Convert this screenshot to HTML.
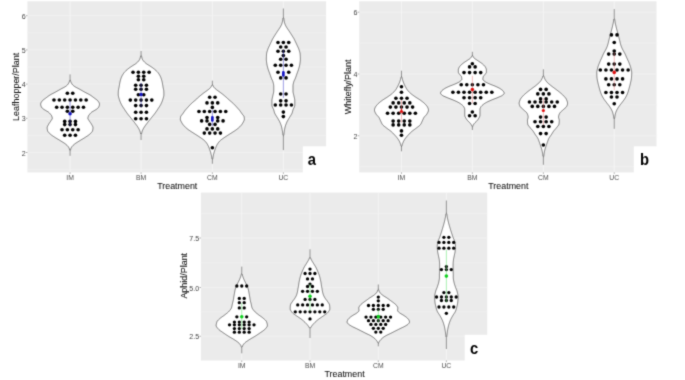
<!DOCTYPE html>
<html><head><meta charset="utf-8"><title>Violin plots</title>
<style>
html,body{margin:0;padding:0;background:#fff;}
body{width:685px;height:380px;overflow:hidden;font-family:"Liberation Sans",sans-serif;}
</style></head><body>
<svg width="685" height="380" viewBox="0 0 685 380" style="display:block">
<defs><filter id="soft" x="0" y="0" width="100%" height="100%" filterUnits="userSpaceOnUse" color-interpolation-filters="sRGB"><feConvolveMatrix order="3" kernelMatrix="1 4 1 4 20 4 1 4 1" divisor="40" edgeMode="duplicate" preserveAlpha="false"/></filter></defs>
<g filter="url(#soft)">
<rect x="-2" y="-2" width="689" height="384" fill="#fff"/>
<rect x="27.4" y="1.3" width="298.70" height="171.10" fill="#ebebeb"/>
<line x1="27.4" x2="326.1" y1="169.6" y2="169.6" stroke="#f1f1f1" stroke-width="0.6"/>
<line x1="27.4" x2="326.1" y1="135.4" y2="135.4" stroke="#f1f1f1" stroke-width="0.6"/>
<line x1="27.4" x2="326.1" y1="101.2" y2="101.2" stroke="#f1f1f1" stroke-width="0.6"/>
<line x1="27.4" x2="326.1" y1="67.0" y2="67.0" stroke="#f1f1f1" stroke-width="0.6"/>
<line x1="27.4" x2="326.1" y1="32.8" y2="32.8" stroke="#f1f1f1" stroke-width="0.6"/>
<line x1="27.4" x2="326.1" y1="152.5" y2="152.5" stroke="#f3f3f3" stroke-width="0.8"/>
<line x1="27.4" x2="326.1" y1="118.3" y2="118.3" stroke="#f3f3f3" stroke-width="0.8"/>
<line x1="27.4" x2="326.1" y1="84.1" y2="84.1" stroke="#f3f3f3" stroke-width="0.8"/>
<line x1="27.4" x2="326.1" y1="49.9" y2="49.9" stroke="#f3f3f3" stroke-width="0.8"/>
<line x1="27.4" x2="326.1" y1="15.7" y2="15.7" stroke="#f3f3f3" stroke-width="0.8"/>
<line x1="70.07" x2="70.07" y1="1.3" y2="172.4" stroke="#f6f6f6" stroke-width="0.8"/>
<line x1="141.07" x2="141.07" y1="1.3" y2="172.4" stroke="#f6f6f6" stroke-width="0.8"/>
<line x1="212.36" x2="212.36" y1="1.3" y2="172.4" stroke="#f6f6f6" stroke-width="0.8"/>
<line x1="283.36" x2="283.36" y1="1.3" y2="172.4" stroke="#f6f6f6" stroke-width="0.8"/>
<path d="M70.07,80.01 L70.49,80.41 L70.57,80.82 L70.67,81.22 L70.80,81.62 L70.95,82.02 L71.12,82.42 L71.31,82.82 L71.52,83.22 L71.74,83.62 L71.99,84.02 L72.28,84.42 L72.64,84.83 L73.06,85.23 L73.52,85.63 L74.01,86.03 L74.53,86.43 L75.14,86.83 L75.83,87.23 L76.57,87.63 L77.35,88.03 L78.14,88.43 L78.91,88.84 L79.64,89.24 L80.35,89.64 L81.06,90.04 L81.76,90.44 L82.46,90.84 L83.17,91.24 L83.88,91.64 L84.59,92.04 L85.33,92.44 L86.09,92.85 L86.87,93.25 L87.66,93.65 L88.43,94.05 L89.17,94.45 L89.87,94.85 L90.51,95.25 L91.11,95.65 L91.68,96.05 L92.23,96.45 L92.76,96.86 L93.29,97.26 L93.80,97.66 L94.32,98.06 L94.86,98.46 L95.42,98.86 L95.99,99.26 L96.55,99.66 L97.06,100.06 L97.51,100.46 L97.87,100.87 L98.16,101.27 L98.43,101.67 L98.70,102.07 L98.94,102.47 L99.15,102.87 L99.31,103.27 L99.42,103.67 L99.47,104.07 L99.46,104.47 L99.41,104.87 L99.33,105.28 L99.23,105.68 L99.09,106.08 L98.94,106.48 L98.77,106.88 L98.58,107.28 L98.32,107.68 L97.93,108.08 L97.46,108.48 L96.97,108.88 L96.41,109.29 L95.78,109.69 L95.12,110.09 L94.45,110.49 L93.79,110.89 L93.07,111.29 L92.37,111.69 L91.75,112.09 L91.25,112.49 L90.83,112.89 L90.45,113.30 L90.11,113.70 L89.78,114.10 L89.44,114.50 L89.11,114.90 L88.80,115.30 L88.56,115.70 L88.40,116.10 L88.25,116.50 L88.12,116.90 L88.01,117.31 L87.92,117.71 L87.88,118.11 L87.89,118.51 L88.01,118.91 L88.22,119.31 L88.48,119.71 L88.76,120.11 L89.02,120.51 L89.27,120.91 L89.53,121.32 L89.81,121.72 L90.10,122.12 L90.39,122.52 L90.67,122.92 L90.95,123.32 L91.20,123.72 L91.43,124.12 L91.65,124.52 L91.88,124.92 L92.11,125.33 L92.33,125.73 L92.54,126.13 L92.72,126.53 L92.86,126.93 L92.95,127.33 L92.97,127.73 L92.96,128.13 L92.94,128.53 L92.89,128.93 L92.84,129.33 L92.77,129.74 L92.70,130.14 L92.61,130.54 L92.50,130.94 L92.32,131.34 L92.06,131.74 L91.75,132.14 L91.40,132.54 L91.02,132.94 L90.62,133.34 L90.23,133.75 L89.80,134.15 L89.32,134.55 L88.80,134.95 L88.24,135.35 L87.66,135.75 L87.06,136.15 L86.45,136.55 L85.85,136.95 L85.24,137.35 L84.62,137.76 L83.97,138.16 L83.31,138.56 L82.63,138.96 L81.95,139.36 L81.28,139.76 L80.61,140.16 L79.96,140.56 L79.32,140.96 L78.68,141.36 L78.03,141.77 L77.38,142.17 L76.74,142.57 L76.12,142.97 L75.52,143.37 L74.96,143.77 L74.44,144.17 L73.97,144.57 L73.51,144.97 L73.07,145.37 L72.67,145.78 L72.31,146.18 L71.99,146.58 L71.72,146.98 L71.47,147.38 L71.23,147.78 L71.03,148.18 L70.87,148.58 L70.75,148.98 L70.66,149.38 L70.59,149.79 L70.52,150.19 L70.07,150.59 L70.07,150.59 L69.62,150.19 L69.55,149.79 L69.48,149.38 L69.39,148.98 L69.27,148.58 L69.11,148.18 L68.91,147.78 L68.67,147.38 L68.42,146.98 L68.15,146.58 L67.83,146.18 L67.47,145.78 L67.07,145.37 L66.63,144.97 L66.17,144.57 L65.70,144.17 L65.18,143.77 L64.62,143.37 L64.02,142.97 L63.40,142.57 L62.76,142.17 L62.11,141.77 L61.46,141.36 L60.82,140.96 L60.18,140.56 L59.53,140.16 L58.86,139.76 L58.19,139.36 L57.51,138.96 L56.83,138.56 L56.17,138.16 L55.52,137.76 L54.90,137.35 L54.29,136.95 L53.69,136.55 L53.08,136.15 L52.48,135.75 L51.90,135.35 L51.34,134.95 L50.82,134.55 L50.34,134.15 L49.91,133.75 L49.52,133.34 L49.12,132.94 L48.74,132.54 L48.39,132.14 L48.08,131.74 L47.82,131.34 L47.64,130.94 L47.53,130.54 L47.44,130.14 L47.37,129.74 L47.30,129.33 L47.25,128.93 L47.20,128.53 L47.18,128.13 L47.17,127.73 L47.19,127.33 L47.28,126.93 L47.42,126.53 L47.60,126.13 L47.81,125.73 L48.03,125.33 L48.26,124.92 L48.49,124.52 L48.71,124.12 L48.94,123.72 L49.19,123.32 L49.47,122.92 L49.75,122.52 L50.04,122.12 L50.33,121.72 L50.61,121.32 L50.87,120.91 L51.12,120.51 L51.38,120.11 L51.66,119.71 L51.92,119.31 L52.13,118.91 L52.25,118.51 L52.26,118.11 L52.22,117.71 L52.13,117.31 L52.02,116.90 L51.89,116.50 L51.74,116.10 L51.58,115.70 L51.34,115.30 L51.03,114.90 L50.70,114.50 L50.36,114.10 L50.03,113.70 L49.69,113.30 L49.31,112.89 L48.89,112.49 L48.39,112.09 L47.77,111.69 L47.07,111.29 L46.35,110.89 L45.69,110.49 L45.02,110.09 L44.36,109.69 L43.73,109.29 L43.17,108.88 L42.68,108.48 L42.21,108.08 L41.82,107.68 L41.56,107.28 L41.37,106.88 L41.20,106.48 L41.05,106.08 L40.91,105.68 L40.81,105.28 L40.73,104.87 L40.68,104.47 L40.67,104.07 L40.72,103.67 L40.83,103.27 L40.99,102.87 L41.20,102.47 L41.44,102.07 L41.71,101.67 L41.98,101.27 L42.27,100.87 L42.63,100.46 L43.08,100.06 L43.59,99.66 L44.15,99.26 L44.72,98.86 L45.28,98.46 L45.82,98.06 L46.34,97.66 L46.85,97.26 L47.38,96.86 L47.91,96.45 L48.46,96.05 L49.03,95.65 L49.63,95.25 L50.27,94.85 L50.97,94.45 L51.71,94.05 L52.48,93.65 L53.27,93.25 L54.05,92.85 L54.81,92.44 L55.55,92.04 L56.26,91.64 L56.97,91.24 L57.68,90.84 L58.38,90.44 L59.08,90.04 L59.79,89.64 L60.50,89.24 L61.23,88.84 L62.00,88.43 L62.79,88.03 L63.57,87.63 L64.31,87.23 L65.00,86.83 L65.61,86.43 L66.13,86.03 L66.62,85.63 L67.08,85.23 L67.50,84.83 L67.86,84.42 L68.15,84.02 L68.40,83.62 L68.62,83.22 L68.83,82.82 L69.02,82.42 L69.19,82.02 L69.34,81.62 L69.47,81.22 L69.57,80.82 L69.65,80.41 L70.07,80.01Z" fill="#fff" stroke="#222" stroke-width="0.58" stroke-linejoin="round"/>
<line x1="70.07" x2="70.07" y1="74.40" y2="80.01" stroke="#303030" stroke-width="0.5"/>
<line x1="70.07" x2="70.07" y1="150.59" y2="155.80" stroke="#303030" stroke-width="0.5"/>
<path d="M141.07,55.41 L141.52,55.81 L141.58,56.21 L141.65,56.61 L141.73,57.01 L141.82,57.41 L141.91,57.82 L142.02,58.22 L142.13,58.62 L142.26,59.02 L142.45,59.42 L142.68,59.82 L142.95,60.22 L143.25,60.62 L143.57,61.02 L143.90,61.42 L144.26,61.82 L144.66,62.23 L145.09,62.63 L145.55,63.03 L146.04,63.43 L146.55,63.83 L147.13,64.23 L147.76,64.63 L148.42,65.03 L149.08,65.43 L149.72,65.83 L150.33,66.23 L150.94,66.64 L151.55,67.04 L152.14,67.44 L152.72,67.84 L153.27,68.24 L153.78,68.64 L154.29,69.04 L154.77,69.44 L155.24,69.84 L155.69,70.24 L156.11,70.64 L156.53,71.05 L156.93,71.45 L157.32,71.85 L157.69,72.25 L158.03,72.65 L158.34,73.05 L158.62,73.45 L158.88,73.85 L159.14,74.25 L159.39,74.65 L159.63,75.05 L159.85,75.45 L160.07,75.86 L160.27,76.26 L160.46,76.66 L160.64,77.06 L160.81,77.46 L160.96,77.86 L161.10,78.26 L161.24,78.66 L161.37,79.06 L161.49,79.46 L161.61,79.86 L161.72,80.27 L161.83,80.67 L161.93,81.07 L162.02,81.47 L162.11,81.87 L162.20,82.27 L162.29,82.67 L162.37,83.07 L162.44,83.47 L162.52,83.87 L162.58,84.27 L162.65,84.68 L162.71,85.08 L162.77,85.48 L162.84,85.88 L162.90,86.28 L162.97,86.68 L163.04,87.08 L163.11,87.48 L163.19,87.88 L163.28,88.28 L163.38,88.68 L163.47,89.09 L163.56,89.49 L163.64,89.89 L163.70,90.29 L163.75,90.69 L163.78,91.09 L163.80,91.49 L163.81,91.89 L163.83,92.29 L163.84,92.69 L163.85,93.09 L163.86,93.50 L163.87,93.90 L163.87,94.30 L163.87,94.70 L163.86,95.10 L163.82,95.50 L163.77,95.90 L163.69,96.30 L163.60,96.70 L163.50,97.10 L163.39,97.50 L163.27,97.91 L163.14,98.31 L163.02,98.71 L162.89,99.11 L162.77,99.51 L162.65,99.91 L162.52,100.31 L162.38,100.71 L162.23,101.11 L162.08,101.51 L161.91,101.91 L161.74,102.32 L161.57,102.72 L161.39,103.12 L161.20,103.52 L161.01,103.92 L160.82,104.32 L160.61,104.72 L160.39,105.12 L160.16,105.52 L159.91,105.92 L159.66,106.32 L159.41,106.73 L159.15,107.13 L158.88,107.53 L158.62,107.93 L158.35,108.33 L158.09,108.73 L157.83,109.13 L157.56,109.53 L157.30,109.93 L157.03,110.33 L156.76,110.73 L156.49,111.14 L156.22,111.54 L155.94,111.94 L155.66,112.34 L155.38,112.74 L155.09,113.14 L154.79,113.54 L154.50,113.94 L154.19,114.34 L153.87,114.74 L153.55,115.14 L153.22,115.55 L152.90,115.95 L152.56,116.35 L152.23,116.75 L151.90,117.15 L151.57,117.55 L151.24,117.95 L150.92,118.35 L150.60,118.75 L150.28,119.15 L149.96,119.55 L149.63,119.95 L149.31,120.36 L148.99,120.76 L148.68,121.16 L148.36,121.56 L148.05,121.96 L147.74,122.36 L147.44,122.76 L147.14,123.16 L146.84,123.56 L146.53,123.96 L146.23,124.36 L145.93,124.77 L145.63,125.17 L145.33,125.57 L145.05,125.97 L144.77,126.37 L144.49,126.77 L144.23,127.17 L143.99,127.57 L143.76,127.97 L143.53,128.37 L143.31,128.77 L143.09,129.18 L142.88,129.58 L142.68,129.98 L142.50,130.38 L142.34,130.78 L142.19,131.18 L142.07,131.58 L141.96,131.98 L141.86,132.38 L141.77,132.78 L141.68,133.18 L141.60,133.59 L141.53,133.99 L141.07,134.39 L141.07,134.39 L140.61,133.99 L140.54,133.59 L140.46,133.18 L140.37,132.78 L140.28,132.38 L140.18,131.98 L140.07,131.58 L139.95,131.18 L139.80,130.78 L139.64,130.38 L139.46,129.98 L139.26,129.58 L139.05,129.18 L138.83,128.77 L138.61,128.37 L138.38,127.97 L138.15,127.57 L137.91,127.17 L137.65,126.77 L137.37,126.37 L137.09,125.97 L136.81,125.57 L136.51,125.17 L136.21,124.77 L135.91,124.36 L135.61,123.96 L135.30,123.56 L135.00,123.16 L134.70,122.76 L134.40,122.36 L134.09,121.96 L133.78,121.56 L133.46,121.16 L133.15,120.76 L132.83,120.36 L132.51,119.95 L132.18,119.55 L131.86,119.15 L131.54,118.75 L131.22,118.35 L130.90,117.95 L130.57,117.55 L130.24,117.15 L129.91,116.75 L129.58,116.35 L129.24,115.95 L128.92,115.55 L128.59,115.14 L128.27,114.74 L127.95,114.34 L127.64,113.94 L127.35,113.54 L127.05,113.14 L126.76,112.74 L126.48,112.34 L126.20,111.94 L125.92,111.54 L125.65,111.14 L125.38,110.73 L125.11,110.33 L124.84,109.93 L124.58,109.53 L124.31,109.13 L124.05,108.73 L123.79,108.33 L123.52,107.93 L123.26,107.53 L122.99,107.13 L122.73,106.73 L122.48,106.32 L122.23,105.92 L121.98,105.52 L121.75,105.12 L121.53,104.72 L121.32,104.32 L121.13,103.92 L120.94,103.52 L120.75,103.12 L120.57,102.72 L120.40,102.32 L120.23,101.91 L120.06,101.51 L119.91,101.11 L119.76,100.71 L119.62,100.31 L119.49,99.91 L119.37,99.51 L119.25,99.11 L119.12,98.71 L119.00,98.31 L118.87,97.91 L118.75,97.50 L118.64,97.10 L118.54,96.70 L118.45,96.30 L118.37,95.90 L118.32,95.50 L118.28,95.10 L118.27,94.70 L118.27,94.30 L118.27,93.90 L118.28,93.50 L118.29,93.09 L118.30,92.69 L118.31,92.29 L118.33,91.89 L118.34,91.49 L118.36,91.09 L118.39,90.69 L118.44,90.29 L118.50,89.89 L118.58,89.49 L118.67,89.09 L118.76,88.68 L118.86,88.28 L118.95,87.88 L119.03,87.48 L119.10,87.08 L119.17,86.68 L119.24,86.28 L119.30,85.88 L119.37,85.48 L119.43,85.08 L119.49,84.68 L119.56,84.27 L119.62,83.87 L119.70,83.47 L119.77,83.07 L119.85,82.67 L119.94,82.27 L120.03,81.87 L120.12,81.47 L120.21,81.07 L120.31,80.67 L120.42,80.27 L120.53,79.86 L120.65,79.46 L120.77,79.06 L120.90,78.66 L121.04,78.26 L121.18,77.86 L121.33,77.46 L121.50,77.06 L121.68,76.66 L121.87,76.26 L122.07,75.86 L122.29,75.45 L122.51,75.05 L122.75,74.65 L123.00,74.25 L123.26,73.85 L123.52,73.45 L123.80,73.05 L124.11,72.65 L124.45,72.25 L124.82,71.85 L125.21,71.45 L125.61,71.05 L126.03,70.64 L126.45,70.24 L126.90,69.84 L127.37,69.44 L127.85,69.04 L128.36,68.64 L128.87,68.24 L129.42,67.84 L130.00,67.44 L130.59,67.04 L131.20,66.64 L131.81,66.23 L132.42,65.83 L133.06,65.43 L133.72,65.03 L134.38,64.63 L135.01,64.23 L135.59,63.83 L136.10,63.43 L136.59,63.03 L137.05,62.63 L137.48,62.23 L137.88,61.82 L138.24,61.42 L138.57,61.02 L138.89,60.62 L139.19,60.22 L139.46,59.82 L139.69,59.42 L139.88,59.02 L140.01,58.62 L140.12,58.22 L140.23,57.82 L140.32,57.41 L140.41,57.01 L140.49,56.61 L140.56,56.21 L140.62,55.81 L141.07,55.41Z" fill="#fff" stroke="#222" stroke-width="0.58" stroke-linejoin="round"/>
<line x1="141.07" x2="141.07" y1="51.00" y2="55.41" stroke="#303030" stroke-width="0.5"/>
<line x1="141.07" x2="141.07" y1="134.39" y2="140.00" stroke="#303030" stroke-width="0.5"/>
<path d="M212.36,84.71 L212.82,85.11 L212.96,85.51 L213.14,85.92 L213.35,86.32 L213.59,86.72 L213.86,87.12 L214.17,87.52 L214.52,87.92 L214.90,88.32 L215.31,88.72 L215.77,89.13 L216.27,89.53 L216.80,89.93 L217.35,90.33 L217.89,90.73 L218.44,91.13 L219.00,91.53 L219.57,91.93 L220.12,92.34 L220.66,92.74 L221.20,93.14 L221.74,93.54 L222.26,93.94 L222.77,94.34 L223.27,94.74 L223.76,95.14 L224.24,95.54 L224.72,95.95 L225.20,96.35 L225.67,96.75 L226.14,97.15 L226.60,97.55 L227.04,97.95 L227.46,98.35 L227.87,98.75 L228.29,99.16 L228.73,99.56 L229.18,99.96 L229.65,100.36 L230.13,100.76 L230.60,101.16 L231.08,101.56 L231.56,101.96 L232.04,102.37 L232.51,102.77 L232.94,103.17 L233.36,103.57 L233.76,103.97 L234.15,104.37 L234.54,104.77 L234.92,105.17 L235.31,105.57 L235.69,105.98 L236.06,106.38 L236.43,106.78 L236.79,107.18 L237.14,107.58 L237.49,107.98 L237.85,108.38 L238.21,108.78 L238.58,109.19 L238.94,109.59 L239.29,109.99 L239.61,110.39 L239.91,110.79 L240.20,111.19 L240.48,111.59 L240.76,111.99 L241.04,112.40 L241.31,112.80 L241.58,113.20 L241.85,113.60 L242.13,114.00 L242.45,114.40 L242.80,114.80 L243.15,115.20 L243.48,115.61 L243.76,116.01 L243.97,116.41 L244.09,116.81 L244.16,117.21 L244.23,117.61 L244.29,118.01 L244.33,118.41 L244.36,118.81 L244.36,119.22 L244.32,119.62 L244.22,120.02 L244.08,120.42 L243.92,120.82 L243.72,121.22 L243.51,121.62 L243.30,122.02 L243.08,122.43 L242.87,122.83 L242.64,123.23 L242.39,123.63 L242.12,124.03 L241.83,124.43 L241.52,124.83 L241.20,125.23 L240.86,125.64 L240.51,126.04 L240.14,126.44 L239.75,126.84 L239.33,127.24 L238.89,127.64 L238.42,128.04 L237.93,128.44 L237.43,128.84 L236.92,129.25 L236.40,129.65 L235.86,130.05 L235.29,130.45 L234.70,130.85 L234.09,131.25 L233.46,131.65 L232.83,132.05 L232.19,132.46 L231.55,132.86 L230.93,133.26 L230.31,133.66 L229.68,134.06 L229.05,134.46 L228.42,134.86 L227.78,135.26 L227.16,135.67 L226.54,136.07 L225.93,136.47 L225.34,136.87 L224.75,137.27 L224.15,137.67 L223.56,138.07 L222.97,138.47 L222.40,138.88 L221.85,139.28 L221.32,139.68 L220.83,140.08 L220.38,140.48 L219.96,140.88 L219.56,141.28 L219.18,141.68 L218.83,142.08 L218.51,142.49 L218.21,142.89 L217.94,143.29 L217.68,143.69 L217.43,144.09 L217.20,144.49 L216.98,144.89 L216.77,145.29 L216.57,145.70 L216.37,146.10 L216.19,146.50 L216.01,146.90 L215.85,147.30 L215.69,147.70 L215.53,148.10 L215.38,148.50 L215.24,148.91 L215.09,149.31 L214.96,149.71 L214.82,150.11 L214.68,150.51 L214.55,150.91 L214.42,151.31 L214.29,151.71 L214.16,152.11 L214.05,152.52 L213.93,152.92 L213.83,153.32 L213.72,153.72 L213.63,154.12 L213.53,154.52 L213.44,154.92 L213.35,155.32 L213.27,155.73 L213.19,156.13 L213.12,156.53 L213.05,156.93 L212.98,157.33 L212.92,157.73 L212.87,158.13 L212.82,158.53 L212.77,158.94 L212.36,159.34 L212.36,159.34 L211.95,158.94 L211.90,158.53 L211.85,158.13 L211.80,157.73 L211.74,157.33 L211.67,156.93 L211.60,156.53 L211.53,156.13 L211.45,155.73 L211.37,155.32 L211.28,154.92 L211.19,154.52 L211.09,154.12 L211.00,153.72 L210.89,153.32 L210.79,152.92 L210.67,152.52 L210.56,152.11 L210.43,151.71 L210.30,151.31 L210.17,150.91 L210.04,150.51 L209.90,150.11 L209.76,149.71 L209.63,149.31 L209.48,148.91 L209.34,148.50 L209.19,148.10 L209.03,147.70 L208.87,147.30 L208.71,146.90 L208.53,146.50 L208.35,146.10 L208.15,145.70 L207.95,145.29 L207.74,144.89 L207.52,144.49 L207.29,144.09 L207.04,143.69 L206.78,143.29 L206.51,142.89 L206.21,142.49 L205.89,142.08 L205.54,141.68 L205.16,141.28 L204.76,140.88 L204.34,140.48 L203.89,140.08 L203.40,139.68 L202.87,139.28 L202.32,138.88 L201.75,138.47 L201.16,138.07 L200.57,137.67 L199.97,137.27 L199.38,136.87 L198.79,136.47 L198.18,136.07 L197.56,135.67 L196.94,135.26 L196.30,134.86 L195.67,134.46 L195.04,134.06 L194.41,133.66 L193.79,133.26 L193.17,132.86 L192.53,132.46 L191.89,132.05 L191.26,131.65 L190.63,131.25 L190.02,130.85 L189.43,130.45 L188.86,130.05 L188.32,129.65 L187.80,129.25 L187.29,128.84 L186.79,128.44 L186.30,128.04 L185.83,127.64 L185.39,127.24 L184.97,126.84 L184.58,126.44 L184.21,126.04 L183.86,125.64 L183.52,125.23 L183.20,124.83 L182.89,124.43 L182.60,124.03 L182.33,123.63 L182.08,123.23 L181.85,122.83 L181.64,122.43 L181.42,122.02 L181.21,121.62 L181.00,121.22 L180.80,120.82 L180.64,120.42 L180.50,120.02 L180.40,119.62 L180.36,119.22 L180.36,118.81 L180.39,118.41 L180.43,118.01 L180.49,117.61 L180.56,117.21 L180.63,116.81 L180.75,116.41 L180.96,116.01 L181.24,115.61 L181.57,115.20 L181.92,114.80 L182.27,114.40 L182.59,114.00 L182.87,113.60 L183.14,113.20 L183.41,112.80 L183.68,112.40 L183.96,111.99 L184.24,111.59 L184.52,111.19 L184.81,110.79 L185.11,110.39 L185.43,109.99 L185.78,109.59 L186.14,109.19 L186.51,108.78 L186.87,108.38 L187.23,107.98 L187.58,107.58 L187.93,107.18 L188.29,106.78 L188.66,106.38 L189.03,105.98 L189.41,105.57 L189.80,105.17 L190.18,104.77 L190.57,104.37 L190.96,103.97 L191.36,103.57 L191.78,103.17 L192.21,102.77 L192.68,102.37 L193.16,101.96 L193.64,101.56 L194.12,101.16 L194.59,100.76 L195.07,100.36 L195.54,99.96 L195.99,99.56 L196.43,99.16 L196.85,98.75 L197.26,98.35 L197.68,97.95 L198.12,97.55 L198.58,97.15 L199.05,96.75 L199.52,96.35 L200.00,95.95 L200.48,95.54 L200.96,95.14 L201.45,94.74 L201.95,94.34 L202.46,93.94 L202.98,93.54 L203.52,93.14 L204.06,92.74 L204.60,92.34 L205.15,91.93 L205.72,91.53 L206.28,91.13 L206.83,90.73 L207.37,90.33 L207.92,89.93 L208.45,89.53 L208.95,89.13 L209.41,88.72 L209.82,88.32 L210.20,87.92 L210.55,87.52 L210.86,87.12 L211.13,86.72 L211.37,86.32 L211.58,85.92 L211.76,85.51 L211.90,85.11 L212.36,84.71Z" fill="#fff" stroke="#222" stroke-width="0.58" stroke-linejoin="round"/>
<line x1="212.36" x2="212.36" y1="80.70" y2="84.71" stroke="#303030" stroke-width="0.5"/>
<line x1="212.36" x2="212.36" y1="159.34" y2="163.75" stroke="#303030" stroke-width="0.5"/>
<path d="M283.36,17.70 L283.79,18.10 L283.83,18.50 L283.88,18.90 L283.92,19.30 L283.97,19.70 L284.03,20.10 L284.08,20.50 L284.15,20.90 L284.21,21.30 L284.30,21.70 L284.39,22.10 L284.49,22.50 L284.59,22.90 L284.71,23.30 L284.84,23.70 L284.97,24.10 L285.13,24.50 L285.31,24.90 L285.50,25.30 L285.71,25.70 L285.92,26.10 L286.13,26.50 L286.37,26.90 L286.61,27.30 L286.86,27.70 L287.12,28.10 L287.37,28.50 L287.64,28.90 L287.91,29.30 L288.18,29.70 L288.46,30.10 L288.73,30.50 L289.00,30.90 L289.27,31.30 L289.54,31.70 L289.81,32.10 L290.07,32.50 L290.33,32.90 L290.60,33.30 L290.86,33.70 L291.11,34.10 L291.37,34.50 L291.62,34.90 L291.87,35.30 L292.12,35.70 L292.36,36.10 L292.61,36.50 L292.86,36.90 L293.11,37.30 L293.37,37.70 L293.62,38.10 L293.86,38.50 L294.08,38.90 L294.28,39.30 L294.48,39.70 L294.67,40.10 L294.86,40.50 L295.05,40.90 L295.23,41.30 L295.42,41.70 L295.61,42.10 L295.80,42.50 L295.99,42.90 L296.18,43.30 L296.36,43.70 L296.55,44.10 L296.74,44.50 L296.92,44.90 L297.11,45.30 L297.29,45.70 L297.49,46.10 L297.68,46.50 L297.87,46.90 L298.06,47.30 L298.25,47.70 L298.43,48.10 L298.60,48.50 L298.75,48.90 L298.90,49.30 L299.03,49.70 L299.16,50.10 L299.30,50.50 L299.43,50.90 L299.55,51.30 L299.67,51.70 L299.79,52.10 L299.89,52.50 L299.98,52.90 L300.05,53.30 L300.12,53.70 L300.16,54.10 L300.19,54.50 L300.21,54.90 L300.24,55.30 L300.26,55.70 L300.28,56.10 L300.30,56.50 L300.32,56.90 L300.33,57.30 L300.34,57.70 L300.35,58.10 L300.36,58.50 L300.36,58.90 L300.37,59.30 L300.36,59.70 L300.34,60.10 L300.32,60.50 L300.28,60.90 L300.24,61.30 L300.20,61.70 L300.14,62.10 L300.08,62.50 L300.02,62.90 L299.96,63.30 L299.90,63.70 L299.83,64.10 L299.77,64.50 L299.70,64.90 L299.62,65.30 L299.53,65.70 L299.44,66.10 L299.34,66.50 L299.23,66.90 L299.12,67.30 L299.01,67.70 L298.89,68.10 L298.78,68.50 L298.66,68.90 L298.54,69.30 L298.41,69.70 L298.28,70.10 L298.14,70.50 L297.99,70.90 L297.84,71.30 L297.69,71.70 L297.54,72.10 L297.39,72.50 L297.24,72.90 L297.09,73.30 L296.94,73.70 L296.80,74.10 L296.66,74.50 L296.52,74.90 L296.38,75.30 L296.25,75.70 L296.11,76.10 L295.98,76.50 L295.84,76.90 L295.70,77.30 L295.55,77.70 L295.40,78.10 L295.25,78.50 L295.08,78.90 L294.89,79.30 L294.68,79.70 L294.47,80.10 L294.27,80.50 L294.08,80.90 L293.93,81.30 L293.81,81.70 L293.70,82.10 L293.59,82.50 L293.49,82.90 L293.39,83.30 L293.30,83.70 L293.21,84.10 L293.14,84.50 L293.07,84.90 L293.02,85.30 L292.99,85.70 L292.97,86.10 L292.97,86.50 L292.97,86.90 L292.97,87.30 L292.97,87.70 L292.97,88.10 L292.97,88.50 L292.97,88.90 L292.97,89.30 L292.97,89.70 L292.97,90.10 L292.97,90.50 L292.97,90.90 L292.98,91.30 L293.01,91.70 L293.06,92.10 L293.12,92.50 L293.20,92.90 L293.30,93.30 L293.39,93.70 L293.49,94.10 L293.60,94.50 L293.69,94.90 L293.79,95.30 L293.87,95.70 L293.95,96.10 L294.04,96.50 L294.14,96.90 L294.24,97.30 L294.34,97.70 L294.43,98.10 L294.52,98.50 L294.60,98.90 L294.67,99.30 L294.72,99.70 L294.76,100.10 L294.77,100.50 L294.77,100.90 L294.77,101.30 L294.77,101.70 L294.77,102.10 L294.77,102.50 L294.77,102.90 L294.77,103.30 L294.77,103.70 L294.77,104.10 L294.77,104.50 L294.77,104.90 L294.77,105.30 L294.73,105.70 L294.64,106.10 L294.51,106.50 L294.36,106.90 L294.18,107.30 L293.98,107.70 L293.77,108.10 L293.57,108.50 L293.37,108.90 L293.19,109.30 L293.04,109.70 L292.91,110.10 L292.80,110.50 L292.70,110.90 L292.60,111.30 L292.50,111.70 L292.39,112.10 L292.27,112.50 L292.13,112.90 L291.97,113.30 L291.78,113.70 L291.57,114.10 L291.34,114.50 L291.10,114.90 L290.85,115.30 L290.59,115.70 L290.33,116.10 L290.08,116.50 L289.83,116.90 L289.59,117.30 L289.36,117.70 L289.13,118.10 L288.89,118.50 L288.65,118.90 L288.41,119.30 L288.17,119.70 L287.93,120.10 L287.70,120.50 L287.48,120.90 L287.26,121.30 L287.06,121.70 L286.87,122.10 L286.70,122.50 L286.52,122.90 L286.36,123.30 L286.19,123.70 L286.04,124.10 L285.88,124.50 L285.74,124.90 L285.60,125.30 L285.47,125.70 L285.34,126.10 L285.23,126.50 L285.12,126.90 L285.03,127.30 L284.93,127.70 L284.85,128.10 L284.76,128.50 L284.69,128.90 L284.61,129.30 L284.54,129.70 L284.47,130.10 L284.41,130.50 L284.34,130.90 L284.28,131.30 L284.22,131.70 L284.17,132.10 L284.11,132.50 L284.06,132.90 L284.00,133.30 L283.95,133.70 L283.90,134.10 L283.86,134.50 L283.82,134.90 L283.77,135.30 L283.36,135.70 L283.36,135.70 L282.95,135.30 L282.90,134.90 L282.86,134.50 L282.82,134.10 L282.77,133.70 L282.72,133.30 L282.66,132.90 L282.61,132.50 L282.55,132.10 L282.50,131.70 L282.44,131.30 L282.38,130.90 L282.31,130.50 L282.25,130.10 L282.18,129.70 L282.11,129.30 L282.03,128.90 L281.96,128.50 L281.87,128.10 L281.79,127.70 L281.69,127.30 L281.60,126.90 L281.49,126.50 L281.38,126.10 L281.25,125.70 L281.12,125.30 L280.98,124.90 L280.84,124.50 L280.68,124.10 L280.53,123.70 L280.36,123.30 L280.20,122.90 L280.02,122.50 L279.85,122.10 L279.66,121.70 L279.46,121.30 L279.24,120.90 L279.02,120.50 L278.79,120.10 L278.55,119.70 L278.31,119.30 L278.07,118.90 L277.83,118.50 L277.59,118.10 L277.36,117.70 L277.13,117.30 L276.89,116.90 L276.64,116.50 L276.39,116.10 L276.13,115.70 L275.87,115.30 L275.62,114.90 L275.38,114.50 L275.15,114.10 L274.94,113.70 L274.75,113.30 L274.59,112.90 L274.45,112.50 L274.33,112.10 L274.22,111.70 L274.12,111.30 L274.02,110.90 L273.92,110.50 L273.81,110.10 L273.68,109.70 L273.53,109.30 L273.35,108.90 L273.15,108.50 L272.95,108.10 L272.74,107.70 L272.54,107.30 L272.36,106.90 L272.21,106.50 L272.08,106.10 L271.99,105.70 L271.95,105.30 L271.95,104.90 L271.95,104.50 L271.95,104.10 L271.95,103.70 L271.95,103.30 L271.95,102.90 L271.95,102.50 L271.95,102.10 L271.95,101.70 L271.95,101.30 L271.95,100.90 L271.95,100.50 L271.96,100.10 L272.00,99.70 L272.05,99.30 L272.12,98.90 L272.20,98.50 L272.29,98.10 L272.38,97.70 L272.48,97.30 L272.58,96.90 L272.68,96.50 L272.77,96.10 L272.85,95.70 L272.93,95.30 L273.03,94.90 L273.12,94.50 L273.23,94.10 L273.33,93.70 L273.42,93.30 L273.52,92.90 L273.60,92.50 L273.66,92.10 L273.71,91.70 L273.74,91.30 L273.75,90.90 L273.75,90.50 L273.75,90.10 L273.75,89.70 L273.75,89.30 L273.75,88.90 L273.75,88.50 L273.75,88.10 L273.75,87.70 L273.75,87.30 L273.75,86.90 L273.75,86.50 L273.75,86.10 L273.73,85.70 L273.70,85.30 L273.65,84.90 L273.58,84.50 L273.51,84.10 L273.42,83.70 L273.33,83.30 L273.23,82.90 L273.13,82.50 L273.02,82.10 L272.91,81.70 L272.79,81.30 L272.64,80.90 L272.45,80.50 L272.25,80.10 L272.04,79.70 L271.83,79.30 L271.64,78.90 L271.47,78.50 L271.32,78.10 L271.17,77.70 L271.02,77.30 L270.88,76.90 L270.74,76.50 L270.61,76.10 L270.47,75.70 L270.34,75.30 L270.20,74.90 L270.06,74.50 L269.92,74.10 L269.78,73.70 L269.63,73.30 L269.48,72.90 L269.33,72.50 L269.18,72.10 L269.03,71.70 L268.88,71.30 L268.73,70.90 L268.58,70.50 L268.44,70.10 L268.31,69.70 L268.18,69.30 L268.06,68.90 L267.94,68.50 L267.83,68.10 L267.71,67.70 L267.60,67.30 L267.49,66.90 L267.38,66.50 L267.28,66.10 L267.19,65.70 L267.10,65.30 L267.02,64.90 L266.95,64.50 L266.89,64.10 L266.82,63.70 L266.76,63.30 L266.70,62.90 L266.64,62.50 L266.58,62.10 L266.52,61.70 L266.48,61.30 L266.44,60.90 L266.40,60.50 L266.38,60.10 L266.36,59.70 L266.35,59.30 L266.36,58.90 L266.36,58.50 L266.37,58.10 L266.38,57.70 L266.39,57.30 L266.40,56.90 L266.42,56.50 L266.44,56.10 L266.46,55.70 L266.48,55.30 L266.51,54.90 L266.53,54.50 L266.56,54.10 L266.60,53.70 L266.67,53.30 L266.74,52.90 L266.83,52.50 L266.93,52.10 L267.05,51.70 L267.17,51.30 L267.29,50.90 L267.42,50.50 L267.56,50.10 L267.69,49.70 L267.82,49.30 L267.97,48.90 L268.12,48.50 L268.29,48.10 L268.47,47.70 L268.66,47.30 L268.85,46.90 L269.04,46.50 L269.23,46.10 L269.43,45.70 L269.61,45.30 L269.80,44.90 L269.98,44.50 L270.17,44.10 L270.36,43.70 L270.54,43.30 L270.73,42.90 L270.92,42.50 L271.11,42.10 L271.30,41.70 L271.49,41.30 L271.67,40.90 L271.86,40.50 L272.05,40.10 L272.24,39.70 L272.44,39.30 L272.64,38.90 L272.86,38.50 L273.10,38.10 L273.35,37.70 L273.61,37.30 L273.86,36.90 L274.11,36.50 L274.36,36.10 L274.60,35.70 L274.85,35.30 L275.10,34.90 L275.35,34.50 L275.61,34.10 L275.86,33.70 L276.12,33.30 L276.39,32.90 L276.65,32.50 L276.91,32.10 L277.18,31.70 L277.45,31.30 L277.72,30.90 L277.99,30.50 L278.26,30.10 L278.54,29.70 L278.81,29.30 L279.08,28.90 L279.35,28.50 L279.60,28.10 L279.86,27.70 L280.11,27.30 L280.35,26.90 L280.59,26.50 L280.80,26.10 L281.01,25.70 L281.22,25.30 L281.41,24.90 L281.59,24.50 L281.75,24.10 L281.88,23.70 L282.01,23.30 L282.13,22.90 L282.23,22.50 L282.33,22.10 L282.42,21.70 L282.51,21.30 L282.57,20.90 L282.64,20.50 L282.69,20.10 L282.75,19.70 L282.80,19.30 L282.84,18.90 L282.89,18.50 L282.93,18.10 L283.36,17.70Z" fill="#fff" stroke="#222" stroke-width="0.58" stroke-linejoin="round"/>
<line x1="283.36" x2="283.36" y1="8.50" y2="17.70" stroke="#303030" stroke-width="0.5"/>
<line x1="283.36" x2="283.36" y1="135.70" y2="150.10" stroke="#303030" stroke-width="0.5"/>
<circle cx="67.39" cy="93.2" r="1.82" fill="#000"/>
<circle cx="72.75" cy="93.2" r="1.82" fill="#000"/>
<circle cx="53.99" cy="99.95" r="1.82" fill="#000"/>
<circle cx="59.35" cy="99.95" r="1.82" fill="#000"/>
<circle cx="64.71" cy="99.95" r="1.82" fill="#000"/>
<circle cx="70.07" cy="99.95" r="1.82" fill="#000"/>
<circle cx="75.43" cy="99.95" r="1.82" fill="#000"/>
<circle cx="80.79" cy="99.95" r="1.82" fill="#000"/>
<circle cx="86.15" cy="99.95" r="1.82" fill="#000"/>
<circle cx="56.67" cy="107.3" r="1.82" fill="#000"/>
<circle cx="62.03" cy="107.3" r="1.82" fill="#000"/>
<circle cx="67.39" cy="107.3" r="1.82" fill="#000"/>
<circle cx="72.75" cy="107.3" r="1.82" fill="#000"/>
<circle cx="78.11" cy="107.3" r="1.82" fill="#000"/>
<circle cx="83.47" cy="107.3" r="1.82" fill="#000"/>
<circle cx="67.39" cy="111.3" r="1.82" fill="#000"/>
<circle cx="72.75" cy="111.3" r="1.82" fill="#000"/>
<circle cx="64.71" cy="121.4" r="1.82" fill="#000"/>
<circle cx="70.07" cy="121.4" r="1.82" fill="#000"/>
<circle cx="75.43" cy="121.4" r="1.82" fill="#000"/>
<circle cx="64.71" cy="124.6" r="1.82" fill="#000"/>
<circle cx="70.07" cy="124.6" r="1.82" fill="#000"/>
<circle cx="75.43" cy="124.6" r="1.82" fill="#000"/>
<circle cx="62.03" cy="129.8" r="1.82" fill="#000"/>
<circle cx="67.39" cy="129.8" r="1.82" fill="#000"/>
<circle cx="72.75" cy="129.8" r="1.82" fill="#000"/>
<circle cx="78.11" cy="129.8" r="1.82" fill="#000"/>
<circle cx="64.71" cy="135.2" r="1.82" fill="#000"/>
<circle cx="70.07" cy="135.2" r="1.82" fill="#000"/>
<circle cx="75.43" cy="135.2" r="1.82" fill="#000"/>
<line x1="70.07" x2="70.07" y1="101" y2="126.3" stroke="#3c3cc8" stroke-width="0.5"/>
<circle cx="70.07" cy="113.7" r="1.8" fill="#1616c4"/>
<circle cx="133.03" cy="72.3" r="1.82" fill="#000"/>
<circle cx="138.39" cy="72.3" r="1.82" fill="#000"/>
<circle cx="143.75" cy="72.3" r="1.82" fill="#000"/>
<circle cx="149.11" cy="72.3" r="1.82" fill="#000"/>
<circle cx="138.39" cy="76.2" r="1.82" fill="#000"/>
<circle cx="143.75" cy="76.2" r="1.82" fill="#000"/>
<circle cx="138.39" cy="79.7" r="1.82" fill="#000"/>
<circle cx="143.75" cy="79.7" r="1.82" fill="#000"/>
<circle cx="135.71" cy="85.3" r="1.82" fill="#000"/>
<circle cx="141.07" cy="85.3" r="1.82" fill="#000"/>
<circle cx="146.43" cy="85.3" r="1.82" fill="#000"/>
<circle cx="135.71" cy="89.2" r="1.82" fill="#000"/>
<circle cx="141.07" cy="89.2" r="1.82" fill="#000"/>
<circle cx="146.43" cy="89.2" r="1.82" fill="#000"/>
<circle cx="138.39" cy="94.7" r="1.82" fill="#000"/>
<circle cx="143.75" cy="94.7" r="1.82" fill="#000"/>
<circle cx="130.35" cy="100.06" r="1.82" fill="#000"/>
<circle cx="135.71" cy="100.06" r="1.82" fill="#000"/>
<circle cx="141.07" cy="100.06" r="1.82" fill="#000"/>
<circle cx="146.43" cy="100.06" r="1.82" fill="#000"/>
<circle cx="151.79" cy="100.06" r="1.82" fill="#000"/>
<circle cx="135.71" cy="105.6" r="1.82" fill="#000"/>
<circle cx="141.07" cy="105.6" r="1.82" fill="#000"/>
<circle cx="146.43" cy="105.6" r="1.82" fill="#000"/>
<circle cx="135.71" cy="112.2" r="1.82" fill="#000"/>
<circle cx="141.07" cy="112.2" r="1.82" fill="#000"/>
<circle cx="146.43" cy="112.2" r="1.82" fill="#000"/>
<circle cx="135.71" cy="118.8" r="1.82" fill="#000"/>
<circle cx="141.07" cy="118.8" r="1.82" fill="#000"/>
<circle cx="146.43" cy="118.8" r="1.82" fill="#000"/>
<line x1="141.07" x2="141.07" y1="82.9" y2="107.2" stroke="#3c3cc8" stroke-width="0.5"/>
<circle cx="141.07" cy="94.5" r="1.8" fill="#1616c4"/>
<circle cx="209.68" cy="97.3" r="1.82" fill="#000"/>
<circle cx="215.04" cy="97.3" r="1.82" fill="#000"/>
<circle cx="207.00" cy="102.9" r="1.82" fill="#000"/>
<circle cx="212.36" cy="102.9" r="1.82" fill="#000"/>
<circle cx="217.72" cy="102.9" r="1.82" fill="#000"/>
<circle cx="212.36" cy="107.4" r="1.82" fill="#000"/>
<circle cx="198.96" cy="111.5" r="1.82" fill="#000"/>
<circle cx="204.32" cy="111.5" r="1.82" fill="#000"/>
<circle cx="209.68" cy="111.5" r="1.82" fill="#000"/>
<circle cx="215.04" cy="111.5" r="1.82" fill="#000"/>
<circle cx="220.40" cy="111.5" r="1.82" fill="#000"/>
<circle cx="225.76" cy="111.5" r="1.82" fill="#000"/>
<circle cx="207.00" cy="117.5" r="1.82" fill="#000"/>
<circle cx="217.72" cy="117.5" r="1.82" fill="#000"/>
<circle cx="201.64" cy="120.9" r="1.82" fill="#000"/>
<circle cx="207.00" cy="120.9" r="1.82" fill="#000"/>
<circle cx="217.72" cy="120.9" r="1.82" fill="#000"/>
<circle cx="223.08" cy="120.9" r="1.82" fill="#000"/>
<circle cx="209.68" cy="124.4" r="1.82" fill="#000"/>
<circle cx="215.04" cy="124.4" r="1.82" fill="#000"/>
<circle cx="207.00" cy="128.9" r="1.82" fill="#000"/>
<circle cx="212.36" cy="128.9" r="1.82" fill="#000"/>
<circle cx="217.72" cy="128.9" r="1.82" fill="#000"/>
<circle cx="204.32" cy="133.1" r="1.82" fill="#000"/>
<circle cx="209.68" cy="133.1" r="1.82" fill="#000"/>
<circle cx="215.04" cy="133.1" r="1.82" fill="#000"/>
<circle cx="220.40" cy="133.1" r="1.82" fill="#000"/>
<circle cx="212.36" cy="147.7" r="1.82" fill="#000"/>
<line x1="212.36" x2="212.36" y1="109.7" y2="126.2" stroke="#3c3cc8" stroke-width="0.5"/>
<rect x="211.01000000000002" y="116.10000000000001" width="2.7" height="5.6" rx="1.25" fill="#1616c4"/>
<circle cx="278.00" cy="42.5" r="1.82" fill="#000"/>
<circle cx="283.36" cy="42.5" r="1.82" fill="#000"/>
<circle cx="288.72" cy="42.5" r="1.82" fill="#000"/>
<circle cx="280.68" cy="47" r="1.82" fill="#000"/>
<circle cx="286.04" cy="47" r="1.82" fill="#000"/>
<circle cx="278.00" cy="51.2" r="1.82" fill="#000"/>
<circle cx="283.36" cy="51.2" r="1.82" fill="#000"/>
<circle cx="288.72" cy="51.2" r="1.82" fill="#000"/>
<circle cx="283.36" cy="55.6" r="1.82" fill="#000"/>
<circle cx="280.68" cy="59.3" r="1.82" fill="#000"/>
<circle cx="286.04" cy="59.3" r="1.82" fill="#000"/>
<circle cx="275.32" cy="65.2" r="1.82" fill="#000"/>
<circle cx="280.68" cy="65.2" r="1.82" fill="#000"/>
<circle cx="286.04" cy="65.2" r="1.82" fill="#000"/>
<circle cx="291.40" cy="65.2" r="1.82" fill="#000"/>
<circle cx="278.00" cy="72.2" r="1.82" fill="#000"/>
<circle cx="288.72" cy="72.2" r="1.82" fill="#000"/>
<circle cx="280.68" cy="77.9" r="1.82" fill="#000"/>
<circle cx="286.04" cy="77.9" r="1.82" fill="#000"/>
<circle cx="280.68" cy="94" r="1.82" fill="#000"/>
<circle cx="286.04" cy="94" r="1.82" fill="#000"/>
<circle cx="280.68" cy="100.85" r="1.82" fill="#000"/>
<circle cx="286.04" cy="100.85" r="1.82" fill="#000"/>
<circle cx="275.32" cy="105" r="1.82" fill="#000"/>
<circle cx="280.68" cy="105" r="1.82" fill="#000"/>
<circle cx="286.04" cy="105" r="1.82" fill="#000"/>
<circle cx="291.40" cy="105" r="1.82" fill="#000"/>
<circle cx="283.36" cy="112.1" r="1.82" fill="#000"/>
<circle cx="283.36" cy="116.6" r="1.82" fill="#000"/>
<line x1="283.36" x2="283.36" y1="50" y2="97.9" stroke="#3c3cc8" stroke-width="0.5"/>
<rect x="282.01" y="71.10000000000001" width="2.7" height="5.6" rx="1.25" fill="#1616c4"/>
<rect x="302.8" y="146.3" width="25.30" height="28.10" fill="#fff"/>
<text x="311.9" y="165.5" font-family="Liberation Sans, sans-serif" font-weight="bold" font-size="16.4" text-anchor="middle" fill="#000" transform="translate(311.9,0) scale(0.9,1) translate(-311.9,0)">a</text>
<line x1="26.0" x2="27.4" y1="152.5" y2="152.5" stroke="#555" stroke-width="0.5"/>
<text x="25.599999999999998" y="155.5" font-family="Liberation Sans, sans-serif" font-size="7.1" text-anchor="end" fill="#444">2</text>
<line x1="26.0" x2="27.4" y1="118.3" y2="118.3" stroke="#555" stroke-width="0.5"/>
<text x="25.599999999999998" y="121.3" font-family="Liberation Sans, sans-serif" font-size="7.1" text-anchor="end" fill="#444">3</text>
<line x1="26.0" x2="27.4" y1="84.1" y2="84.1" stroke="#555" stroke-width="0.5"/>
<text x="25.599999999999998" y="87.1" font-family="Liberation Sans, sans-serif" font-size="7.1" text-anchor="end" fill="#444">4</text>
<line x1="26.0" x2="27.4" y1="49.9" y2="49.9" stroke="#555" stroke-width="0.5"/>
<text x="25.599999999999998" y="52.9" font-family="Liberation Sans, sans-serif" font-size="7.1" text-anchor="end" fill="#444">5</text>
<line x1="26.0" x2="27.4" y1="15.7" y2="15.7" stroke="#555" stroke-width="0.5"/>
<text x="25.599999999999998" y="18.7" font-family="Liberation Sans, sans-serif" font-size="7.1" text-anchor="end" fill="#444">6</text>
<line x1="70.07" x2="70.07" y1="172.4" y2="173.8" stroke="#555" stroke-width="0.5"/>
<text x="70.07" y="179.9" font-family="Liberation Sans, sans-serif" font-size="6.8" text-anchor="middle" fill="#4d4d4d">IM</text>
<line x1="141.07" x2="141.07" y1="172.4" y2="173.8" stroke="#555" stroke-width="0.5"/>
<text x="141.07" y="179.9" font-family="Liberation Sans, sans-serif" font-size="6.8" text-anchor="middle" fill="#4d4d4d">BM</text>
<line x1="212.36" x2="212.36" y1="172.4" y2="173.8" stroke="#555" stroke-width="0.5"/>
<text x="212.36" y="179.9" font-family="Liberation Sans, sans-serif" font-size="6.8" text-anchor="middle" fill="#4d4d4d">CM</text>
<line x1="283.36" x2="283.36" y1="172.4" y2="173.8" stroke="#555" stroke-width="0.5"/>
<text x="283.36" y="179.9" font-family="Liberation Sans, sans-serif" font-size="6.8" text-anchor="middle" fill="#4d4d4d">UC</text>
<text x="177.25" y="188.6" font-family="Liberation Sans, sans-serif" font-size="8.9" text-anchor="middle" fill="#111" stroke="#111" stroke-width="0.06">Treatment</text>
<text x="18.799999999999997" y="86.85000000000001" font-family="Liberation Sans, sans-serif" font-size="8.95" text-anchor="middle" fill="#111" stroke="#111" stroke-width="0.06" transform="rotate(-90 18.799999999999997 86.85000000000001)">Leafhopper/Plant</text>
<rect x="359.2" y="1.3" width="297.30" height="171.10" fill="#ebebeb"/>
<line x1="359.2" x2="656.5" y1="166.6" y2="166.6" stroke="#f1f1f1" stroke-width="0.6"/>
<line x1="359.2" x2="656.5" y1="104.9" y2="104.9" stroke="#f1f1f1" stroke-width="0.6"/>
<line x1="359.2" x2="656.5" y1="43.1" y2="43.1" stroke="#f1f1f1" stroke-width="0.6"/>
<line x1="359.2" x2="656.5" y1="135.75" y2="135.75" stroke="#f3f3f3" stroke-width="0.8"/>
<line x1="359.2" x2="656.5" y1="74.0" y2="74.0" stroke="#f3f3f3" stroke-width="0.8"/>
<line x1="359.2" x2="656.5" y1="12.2" y2="12.2" stroke="#f3f3f3" stroke-width="0.8"/>
<line x1="401.47" x2="401.47" y1="1.3" y2="172.4" stroke="#f6f6f6" stroke-width="0.8"/>
<line x1="472.36" x2="472.36" y1="1.3" y2="172.4" stroke="#f6f6f6" stroke-width="0.8"/>
<line x1="543.36" x2="543.36" y1="1.3" y2="172.4" stroke="#f6f6f6" stroke-width="0.8"/>
<line x1="614.24" x2="614.24" y1="1.3" y2="172.4" stroke="#f6f6f6" stroke-width="0.8"/>
<path d="M401.47,76.71 L401.93,77.12 L402.01,77.52 L402.09,77.92 L402.18,78.32 L402.27,78.72 L402.36,79.12 L402.47,79.52 L402.58,79.92 L402.70,80.32 L402.83,80.72 L402.97,81.13 L403.11,81.53 L403.25,81.93 L403.40,82.33 L403.55,82.73 L403.71,83.13 L403.88,83.53 L404.05,83.93 L404.23,84.33 L404.42,84.73 L404.61,85.14 L404.81,85.54 L405.01,85.94 L405.21,86.34 L405.42,86.74 L405.63,87.14 L405.85,87.54 L406.07,87.94 L406.30,88.34 L406.55,88.74 L406.81,89.15 L407.08,89.55 L407.36,89.95 L407.67,90.35 L408.00,90.75 L408.35,91.15 L408.71,91.55 L409.10,91.95 L409.49,92.35 L409.91,92.75 L410.33,93.16 L410.78,93.56 L411.26,93.96 L411.77,94.36 L412.30,94.76 L412.84,95.16 L413.40,95.56 L413.98,95.96 L414.55,96.36 L415.13,96.76 L415.71,97.17 L416.33,97.57 L416.97,97.97 L417.61,98.37 L418.26,98.77 L418.90,99.17 L419.52,99.57 L420.11,99.97 L420.68,100.37 L421.22,100.77 L421.76,101.18 L422.29,101.58 L422.81,101.98 L423.31,102.38 L423.79,102.78 L424.24,103.18 L424.66,103.58 L425.05,103.98 L425.43,104.38 L425.80,104.78 L426.16,105.19 L426.50,105.59 L426.81,105.99 L427.10,106.39 L427.36,106.79 L427.58,107.19 L427.76,107.59 L427.93,107.99 L428.10,108.39 L428.25,108.79 L428.36,109.20 L428.44,109.60 L428.47,110.00 L428.45,110.40 L428.38,110.80 L428.27,111.20 L428.13,111.60 L427.96,112.00 L427.77,112.40 L427.56,112.80 L427.35,113.21 L427.13,113.61 L426.91,114.01 L426.65,114.41 L426.32,114.81 L425.96,115.21 L425.57,115.61 L425.18,116.01 L424.80,116.41 L424.44,116.81 L424.13,117.22 L423.87,117.62 L423.65,118.02 L423.45,118.42 L423.25,118.82 L423.07,119.22 L422.90,119.62 L422.72,120.02 L422.55,120.42 L422.36,120.82 L422.17,121.23 L421.98,121.63 L421.80,122.03 L421.63,122.43 L421.45,122.83 L421.25,123.23 L421.05,123.63 L420.81,124.03 L420.56,124.43 L420.25,124.83 L419.88,125.24 L419.45,125.64 L418.98,126.04 L418.47,126.44 L417.94,126.84 L417.40,127.24 L416.87,127.64 L416.35,128.04 L415.84,128.44 L415.30,128.84 L414.75,129.25 L414.19,129.65 L413.64,130.05 L413.09,130.45 L412.56,130.85 L412.05,131.25 L411.58,131.65 L411.13,132.05 L410.71,132.45 L410.29,132.85 L409.90,133.26 L409.51,133.66 L409.13,134.06 L408.76,134.46 L408.39,134.86 L408.03,135.26 L407.67,135.66 L407.31,136.06 L406.95,136.46 L406.60,136.86 L406.26,137.27 L405.93,137.67 L405.62,138.07 L405.32,138.47 L405.04,138.87 L404.78,139.27 L404.52,139.67 L404.27,140.07 L404.03,140.47 L403.81,140.87 L403.59,141.28 L403.39,141.68 L403.21,142.08 L403.04,142.48 L402.87,142.88 L402.71,143.28 L402.56,143.68 L402.42,144.08 L402.28,144.48 L402.17,144.88 L402.07,145.29 L401.98,145.69 L401.91,146.09 L401.47,146.49 L401.47,146.49 L401.03,146.09 L400.96,145.69 L400.87,145.29 L400.77,144.88 L400.66,144.48 L400.52,144.08 L400.38,143.68 L400.23,143.28 L400.07,142.88 L399.90,142.48 L399.73,142.08 L399.55,141.68 L399.35,141.28 L399.13,140.87 L398.91,140.47 L398.67,140.07 L398.42,139.67 L398.16,139.27 L397.90,138.87 L397.62,138.47 L397.32,138.07 L397.01,137.67 L396.68,137.27 L396.34,136.86 L395.99,136.46 L395.63,136.06 L395.27,135.66 L394.91,135.26 L394.55,134.86 L394.18,134.46 L393.81,134.06 L393.43,133.66 L393.04,133.26 L392.65,132.85 L392.23,132.45 L391.81,132.05 L391.36,131.65 L390.89,131.25 L390.38,130.85 L389.85,130.45 L389.30,130.05 L388.75,129.65 L388.19,129.25 L387.64,128.84 L387.10,128.44 L386.59,128.04 L386.07,127.64 L385.54,127.24 L385.00,126.84 L384.47,126.44 L383.96,126.04 L383.49,125.64 L383.06,125.24 L382.69,124.83 L382.38,124.43 L382.13,124.03 L381.89,123.63 L381.69,123.23 L381.49,122.83 L381.31,122.43 L381.14,122.03 L380.96,121.63 L380.77,121.23 L380.58,120.82 L380.39,120.42 L380.22,120.02 L380.04,119.62 L379.87,119.22 L379.69,118.82 L379.49,118.42 L379.29,118.02 L379.07,117.62 L378.81,117.22 L378.50,116.81 L378.14,116.41 L377.76,116.01 L377.37,115.61 L376.98,115.21 L376.62,114.81 L376.29,114.41 L376.03,114.01 L375.81,113.61 L375.59,113.21 L375.38,112.80 L375.17,112.40 L374.98,112.00 L374.81,111.60 L374.67,111.20 L374.56,110.80 L374.49,110.40 L374.47,110.00 L374.50,109.60 L374.58,109.20 L374.69,108.79 L374.84,108.39 L375.01,107.99 L375.18,107.59 L375.36,107.19 L375.58,106.79 L375.84,106.39 L376.13,105.99 L376.44,105.59 L376.78,105.19 L377.14,104.78 L377.51,104.38 L377.89,103.98 L378.28,103.58 L378.70,103.18 L379.15,102.78 L379.63,102.38 L380.13,101.98 L380.65,101.58 L381.18,101.18 L381.72,100.77 L382.26,100.37 L382.83,99.97 L383.42,99.57 L384.04,99.17 L384.68,98.77 L385.33,98.37 L385.97,97.97 L386.61,97.57 L387.23,97.17 L387.81,96.76 L388.39,96.36 L388.96,95.96 L389.54,95.56 L390.10,95.16 L390.64,94.76 L391.17,94.36 L391.68,93.96 L392.16,93.56 L392.61,93.16 L393.03,92.75 L393.45,92.35 L393.84,91.95 L394.23,91.55 L394.59,91.15 L394.94,90.75 L395.27,90.35 L395.58,89.95 L395.86,89.55 L396.13,89.15 L396.39,88.74 L396.64,88.34 L396.87,87.94 L397.09,87.54 L397.31,87.14 L397.52,86.74 L397.73,86.34 L397.93,85.94 L398.13,85.54 L398.33,85.14 L398.52,84.73 L398.71,84.33 L398.89,83.93 L399.06,83.53 L399.23,83.13 L399.39,82.73 L399.54,82.33 L399.69,81.93 L399.83,81.53 L399.97,81.13 L400.11,80.72 L400.24,80.32 L400.36,79.92 L400.47,79.52 L400.58,79.12 L400.67,78.72 L400.76,78.32 L400.85,77.92 L400.93,77.52 L401.01,77.12 L401.47,76.71Z" fill="#fff" stroke="#222" stroke-width="0.58" stroke-linejoin="round"/>
<line x1="401.47" x2="401.47" y1="70.70" y2="76.71" stroke="#303030" stroke-width="0.5"/>
<line x1="401.47" x2="401.47" y1="146.49" y2="151.30" stroke="#303030" stroke-width="0.5"/>
<path d="M472.36,55.41 L472.82,55.81 L472.96,56.21 L473.15,56.61 L473.38,57.01 L473.65,57.41 L473.95,57.82 L474.30,58.22 L474.76,58.62 L475.31,59.02 L475.92,59.42 L476.55,59.82 L477.16,60.22 L477.75,60.62 L478.36,61.02 L478.99,61.42 L479.61,61.83 L480.21,62.23 L480.77,62.63 L481.31,63.03 L481.84,63.43 L482.35,63.83 L482.84,64.23 L483.29,64.63 L483.70,65.03 L484.08,65.43 L484.45,65.84 L484.79,66.24 L485.11,66.64 L485.37,67.04 L485.59,67.44 L485.78,67.84 L485.96,68.24 L486.12,68.64 L486.25,69.04 L486.34,69.45 L486.37,69.85 L486.37,70.25 L486.37,70.65 L486.37,71.05 L486.37,71.45 L486.37,71.85 L486.36,72.25 L486.27,72.65 L486.06,73.05 L485.78,73.46 L485.46,73.86 L485.14,74.26 L484.85,74.66 L484.52,75.06 L484.15,75.46 L483.79,75.86 L483.47,76.26 L483.24,76.66 L483.13,77.06 L483.06,77.47 L482.99,77.87 L482.93,78.27 L482.89,78.67 L482.87,79.07 L482.89,79.47 L483.06,79.87 L483.38,80.27 L483.81,80.67 L484.30,81.07 L484.81,81.48 L485.35,81.88 L486.01,82.28 L486.78,82.68 L487.63,83.08 L488.51,83.48 L489.40,83.88 L490.31,84.28 L491.31,84.68 L492.36,85.09 L493.42,85.49 L494.45,85.89 L495.41,86.29 L496.30,86.69 L497.16,87.09 L498.00,87.49 L498.80,87.89 L499.54,88.29 L500.20,88.69 L500.80,89.10 L501.38,89.50 L501.93,89.90 L502.43,90.30 L502.85,90.70 L503.19,91.10 L503.46,91.50 L503.72,91.90 L503.94,92.30 L504.10,92.70 L504.16,93.11 L504.10,93.51 L503.88,93.91 L503.56,94.31 L503.17,94.71 L502.75,95.11 L502.21,95.51 L501.49,95.91 L500.63,96.31 L499.69,96.71 L498.74,97.12 L497.81,97.52 L496.85,97.92 L495.84,98.32 L494.79,98.72 L493.75,99.12 L492.73,99.52 L491.77,99.92 L490.83,100.32 L489.88,100.73 L488.97,101.13 L488.09,101.53 L487.28,101.93 L486.53,102.33 L485.84,102.73 L485.17,103.13 L484.55,103.53 L483.97,103.93 L483.43,104.33 L482.95,104.74 L482.48,105.14 L482.03,105.54 L481.61,105.94 L481.25,106.34 L480.96,106.74 L480.74,107.14 L480.52,107.54 L480.33,107.94 L480.16,108.34 L480.04,108.75 L479.98,109.15 L479.97,109.55 L479.97,109.95 L479.97,110.35 L479.97,110.75 L479.97,111.15 L479.97,111.55 L479.97,111.95 L479.97,112.35 L479.97,112.76 L479.97,113.16 L479.97,113.56 L479.97,113.96 L479.97,114.36 L479.97,114.76 L479.97,115.16 L479.95,115.56 L479.87,115.96 L479.74,116.37 L479.58,116.77 L479.39,117.17 L479.18,117.57 L478.95,117.97 L478.72,118.37 L478.49,118.77 L478.25,119.17 L477.96,119.57 L477.65,119.97 L477.31,120.38 L476.96,120.78 L476.61,121.18 L476.22,121.58 L475.80,121.98 L475.36,122.38 L474.94,122.78 L474.56,123.18 L474.23,123.58 L473.94,123.98 L473.67,124.39 L473.42,124.79 L473.20,125.19 L473.02,125.59 L472.88,125.99 L472.77,126.39 L472.36,126.79 L472.36,126.79 L471.95,126.39 L471.84,125.99 L471.70,125.59 L471.52,125.19 L471.30,124.79 L471.05,124.39 L470.78,123.98 L470.49,123.58 L470.16,123.18 L469.78,122.78 L469.36,122.38 L468.92,121.98 L468.50,121.58 L468.11,121.18 L467.76,120.78 L467.41,120.38 L467.07,119.97 L466.76,119.57 L466.47,119.17 L466.23,118.77 L466.00,118.37 L465.77,117.97 L465.54,117.57 L465.33,117.17 L465.14,116.77 L464.98,116.37 L464.85,115.96 L464.77,115.56 L464.75,115.16 L464.75,114.76 L464.75,114.36 L464.75,113.96 L464.75,113.56 L464.75,113.16 L464.75,112.76 L464.75,112.35 L464.75,111.95 L464.75,111.55 L464.75,111.15 L464.75,110.75 L464.75,110.35 L464.75,109.95 L464.75,109.55 L464.74,109.15 L464.68,108.75 L464.56,108.34 L464.39,107.94 L464.20,107.54 L463.98,107.14 L463.76,106.74 L463.47,106.34 L463.11,105.94 L462.69,105.54 L462.24,105.14 L461.77,104.74 L461.29,104.33 L460.75,103.93 L460.17,103.53 L459.55,103.13 L458.88,102.73 L458.19,102.33 L457.44,101.93 L456.63,101.53 L455.75,101.13 L454.84,100.73 L453.89,100.32 L452.95,99.92 L451.99,99.52 L450.97,99.12 L449.93,98.72 L448.88,98.32 L447.87,97.92 L446.91,97.52 L445.98,97.12 L445.03,96.71 L444.09,96.31 L443.23,95.91 L442.51,95.51 L441.97,95.11 L441.55,94.71 L441.16,94.31 L440.84,93.91 L440.62,93.51 L440.56,93.11 L440.62,92.70 L440.78,92.30 L441.00,91.90 L441.26,91.50 L441.53,91.10 L441.87,90.70 L442.29,90.30 L442.79,89.90 L443.34,89.50 L443.92,89.10 L444.52,88.69 L445.18,88.29 L445.92,87.89 L446.72,87.49 L447.56,87.09 L448.42,86.69 L449.31,86.29 L450.27,85.89 L451.30,85.49 L452.36,85.09 L453.41,84.68 L454.41,84.28 L455.32,83.88 L456.21,83.48 L457.09,83.08 L457.94,82.68 L458.71,82.28 L459.37,81.88 L459.91,81.48 L460.42,81.07 L460.91,80.67 L461.34,80.27 L461.66,79.87 L461.83,79.47 L461.85,79.07 L461.83,78.67 L461.79,78.27 L461.73,77.87 L461.66,77.47 L461.59,77.06 L461.48,76.66 L461.25,76.26 L460.93,75.86 L460.57,75.46 L460.20,75.06 L459.87,74.66 L459.58,74.26 L459.26,73.86 L458.94,73.46 L458.66,73.05 L458.45,72.65 L458.36,72.25 L458.35,71.85 L458.35,71.45 L458.35,71.05 L458.35,70.65 L458.35,70.25 L458.35,69.85 L458.38,69.45 L458.47,69.04 L458.60,68.64 L458.76,68.24 L458.94,67.84 L459.13,67.44 L459.35,67.04 L459.61,66.64 L459.93,66.24 L460.27,65.84 L460.64,65.43 L461.02,65.03 L461.43,64.63 L461.88,64.23 L462.37,63.83 L462.88,63.43 L463.41,63.03 L463.95,62.63 L464.51,62.23 L465.11,61.83 L465.73,61.42 L466.36,61.02 L466.97,60.62 L467.56,60.22 L468.17,59.82 L468.80,59.42 L469.41,59.02 L469.96,58.62 L470.42,58.22 L470.77,57.82 L471.07,57.41 L471.34,57.01 L471.57,56.61 L471.76,56.21 L471.90,55.81 L472.36,55.41Z" fill="#fff" stroke="#222" stroke-width="0.58" stroke-linejoin="round"/>
<line x1="472.36" x2="472.36" y1="51.80" y2="55.41" stroke="#303030" stroke-width="0.5"/>
<line x1="472.36" x2="472.36" y1="126.79" y2="130.00" stroke="#303030" stroke-width="0.5"/>
<path d="M543.36,75.72 L543.85,76.12 L543.95,76.52 L544.07,76.92 L544.20,77.33 L544.34,77.73 L544.49,78.13 L544.65,78.53 L544.83,78.93 L545.04,79.33 L545.27,79.73 L545.52,80.13 L545.78,80.54 L546.07,80.94 L546.36,81.34 L546.67,81.74 L547.01,82.14 L547.39,82.54 L547.80,82.94 L548.24,83.34 L548.70,83.75 L549.18,84.15 L549.66,84.55 L550.15,84.95 L550.63,85.35 L551.13,85.75 L551.64,86.15 L552.17,86.55 L552.71,86.96 L553.25,87.36 L553.80,87.76 L554.35,88.16 L554.88,88.56 L555.41,88.96 L555.94,89.36 L556.48,89.76 L557.01,90.17 L557.54,90.57 L558.07,90.97 L558.59,91.37 L559.10,91.77 L559.59,92.17 L560.07,92.57 L560.55,92.97 L561.02,93.38 L561.49,93.78 L561.95,94.18 L562.39,94.58 L562.82,94.98 L563.23,95.38 L563.61,95.78 L563.98,96.18 L564.34,96.59 L564.70,96.99 L565.05,97.39 L565.38,97.79 L565.69,98.19 L565.97,98.59 L566.22,98.99 L566.42,99.39 L566.59,99.80 L566.75,100.20 L566.91,100.60 L567.06,101.00 L567.20,101.40 L567.32,101.80 L567.42,102.20 L567.50,102.60 L567.55,103.01 L567.56,103.41 L567.54,103.81 L567.47,104.21 L567.37,104.61 L567.24,105.01 L567.08,105.41 L566.91,105.81 L566.73,106.22 L566.52,106.62 L566.23,107.02 L565.86,107.42 L565.45,107.82 L564.99,108.22 L564.51,108.62 L564.03,109.02 L563.57,109.43 L563.14,109.83 L562.72,110.23 L562.27,110.63 L561.81,111.03 L561.34,111.43 L560.89,111.83 L560.47,112.23 L560.10,112.64 L559.79,113.04 L559.57,113.44 L559.40,113.84 L559.23,114.24 L559.07,114.64 L558.93,115.04 L558.81,115.44 L558.70,115.85 L558.63,116.25 L558.58,116.65 L558.57,117.05 L558.60,117.45 L558.67,117.85 L558.77,118.25 L558.88,118.66 L559.00,119.06 L559.11,119.46 L559.20,119.86 L559.25,120.26 L559.27,120.66 L559.26,121.06 L559.24,121.46 L559.22,121.87 L559.19,122.27 L559.15,122.67 L559.10,123.07 L559.05,123.47 L559.00,123.87 L558.93,124.27 L558.80,124.67 L558.59,125.08 L558.33,125.48 L558.03,125.88 L557.70,126.28 L557.36,126.68 L557.02,127.08 L556.69,127.48 L556.39,127.88 L556.06,128.29 L555.71,128.69 L555.36,129.09 L555.00,129.49 L554.64,129.89 L554.29,130.29 L553.96,130.69 L553.65,131.09 L553.36,131.50 L553.09,131.90 L552.83,132.30 L552.57,132.70 L552.33,133.10 L552.08,133.50 L551.84,133.90 L551.59,134.30 L551.33,134.71 L551.06,135.11 L550.78,135.51 L550.48,135.91 L550.18,136.31 L549.88,136.71 L549.60,137.11 L549.33,137.51 L549.08,137.92 L548.87,138.32 L548.67,138.72 L548.50,139.12 L548.33,139.52 L548.17,139.92 L548.02,140.32 L547.88,140.72 L547.74,141.13 L547.60,141.53 L547.45,141.93 L547.31,142.33 L547.17,142.73 L547.03,143.13 L546.90,143.53 L546.77,143.93 L546.63,144.34 L546.50,144.74 L546.37,145.14 L546.24,145.54 L546.10,145.94 L545.96,146.34 L545.82,146.74 L545.68,147.14 L545.54,147.55 L545.41,147.95 L545.28,148.35 L545.15,148.75 L545.03,149.15 L544.92,149.55 L544.82,149.95 L544.72,150.35 L544.63,150.76 L544.54,151.16 L544.46,151.56 L544.38,151.96 L544.30,152.36 L544.23,152.76 L544.16,153.16 L544.10,153.56 L544.04,153.97 L543.98,154.37 L543.93,154.77 L543.89,155.17 L543.85,155.57 L543.81,155.97 L543.77,156.37 L543.36,156.77 L543.36,156.77 L542.95,156.37 L542.91,155.97 L542.87,155.57 L542.83,155.17 L542.79,154.77 L542.74,154.37 L542.68,153.97 L542.62,153.56 L542.56,153.16 L542.49,152.76 L542.42,152.36 L542.34,151.96 L542.26,151.56 L542.18,151.16 L542.09,150.76 L542.00,150.35 L541.90,149.95 L541.80,149.55 L541.69,149.15 L541.57,148.75 L541.44,148.35 L541.31,147.95 L541.18,147.55 L541.04,147.14 L540.90,146.74 L540.76,146.34 L540.62,145.94 L540.48,145.54 L540.35,145.14 L540.22,144.74 L540.09,144.34 L539.95,143.93 L539.82,143.53 L539.69,143.13 L539.55,142.73 L539.41,142.33 L539.27,141.93 L539.12,141.53 L538.98,141.13 L538.84,140.72 L538.70,140.32 L538.55,139.92 L538.39,139.52 L538.22,139.12 L538.05,138.72 L537.85,138.32 L537.64,137.92 L537.39,137.51 L537.12,137.11 L536.84,136.71 L536.54,136.31 L536.24,135.91 L535.94,135.51 L535.66,135.11 L535.39,134.71 L535.13,134.30 L534.88,133.90 L534.64,133.50 L534.39,133.10 L534.15,132.70 L533.89,132.30 L533.63,131.90 L533.36,131.50 L533.07,131.09 L532.76,130.69 L532.43,130.29 L532.08,129.89 L531.72,129.49 L531.36,129.09 L531.01,128.69 L530.66,128.29 L530.33,127.88 L530.03,127.48 L529.70,127.08 L529.36,126.68 L529.02,126.28 L528.69,125.88 L528.39,125.48 L528.13,125.08 L527.92,124.67 L527.79,124.27 L527.72,123.87 L527.67,123.47 L527.62,123.07 L527.57,122.67 L527.53,122.27 L527.50,121.87 L527.48,121.46 L527.46,121.06 L527.45,120.66 L527.47,120.26 L527.52,119.86 L527.61,119.46 L527.72,119.06 L527.84,118.66 L527.95,118.25 L528.05,117.85 L528.12,117.45 L528.15,117.05 L528.14,116.65 L528.09,116.25 L528.02,115.85 L527.91,115.44 L527.79,115.04 L527.65,114.64 L527.49,114.24 L527.32,113.84 L527.15,113.44 L526.93,113.04 L526.62,112.64 L526.25,112.23 L525.83,111.83 L525.38,111.43 L524.91,111.03 L524.45,110.63 L524.00,110.23 L523.58,109.83 L523.15,109.43 L522.69,109.02 L522.21,108.62 L521.73,108.22 L521.27,107.82 L520.86,107.42 L520.49,107.02 L520.20,106.62 L519.99,106.22 L519.81,105.81 L519.64,105.41 L519.48,105.01 L519.35,104.61 L519.25,104.21 L519.18,103.81 L519.16,103.41 L519.17,103.01 L519.22,102.60 L519.30,102.20 L519.40,101.80 L519.52,101.40 L519.66,101.00 L519.81,100.60 L519.97,100.20 L520.13,99.80 L520.30,99.39 L520.50,98.99 L520.75,98.59 L521.03,98.19 L521.34,97.79 L521.67,97.39 L522.02,96.99 L522.38,96.59 L522.74,96.18 L523.11,95.78 L523.49,95.38 L523.90,94.98 L524.33,94.58 L524.77,94.18 L525.23,93.78 L525.70,93.38 L526.17,92.97 L526.65,92.57 L527.13,92.17 L527.62,91.77 L528.13,91.37 L528.65,90.97 L529.18,90.57 L529.71,90.17 L530.24,89.76 L530.78,89.36 L531.31,88.96 L531.84,88.56 L532.37,88.16 L532.92,87.76 L533.47,87.36 L534.01,86.96 L534.55,86.55 L535.08,86.15 L535.59,85.75 L536.09,85.35 L536.57,84.95 L537.06,84.55 L537.54,84.15 L538.02,83.75 L538.48,83.34 L538.92,82.94 L539.33,82.54 L539.71,82.14 L540.05,81.74 L540.36,81.34 L540.65,80.94 L540.94,80.54 L541.20,80.13 L541.45,79.73 L541.68,79.33 L541.89,78.93 L542.07,78.53 L542.23,78.13 L542.38,77.73 L542.52,77.33 L542.65,76.92 L542.77,76.52 L542.87,76.12 L543.36,75.72Z" fill="#fff" stroke="#222" stroke-width="0.58" stroke-linejoin="round"/>
<line x1="543.36" x2="543.36" y1="69.30" y2="75.72" stroke="#303030" stroke-width="0.5"/>
<line x1="543.36" x2="543.36" y1="156.77" y2="164.80" stroke="#303030" stroke-width="0.5"/>
<path d="M614.24,18.71 L614.67,19.11 L614.72,19.51 L614.77,19.91 L614.83,20.31 L614.88,20.71 L614.94,21.11 L615.00,21.51 L615.06,21.91 L615.12,22.31 L615.20,22.71 L615.27,23.11 L615.35,23.51 L615.44,23.91 L615.53,24.31 L615.62,24.71 L615.71,25.11 L615.80,25.51 L615.89,25.91 L615.98,26.31 L616.08,26.71 L616.17,27.12 L616.27,27.52 L616.37,27.92 L616.47,28.32 L616.57,28.72 L616.67,29.12 L616.78,29.52 L616.88,29.92 L616.99,30.32 L617.09,30.72 L617.20,31.12 L617.30,31.52 L617.41,31.92 L617.52,32.32 L617.63,32.72 L617.74,33.12 L617.84,33.52 L617.95,33.92 L618.06,34.32 L618.17,34.72 L618.28,35.12 L618.39,35.52 L618.49,35.92 L618.59,36.32 L618.70,36.72 L618.80,37.12 L618.90,37.52 L619.00,37.92 L619.11,38.32 L619.21,38.72 L619.31,39.13 L619.41,39.53 L619.51,39.93 L619.61,40.33 L619.71,40.73 L619.81,41.13 L619.91,41.53 L620.00,41.93 L620.09,42.33 L620.19,42.73 L620.29,43.13 L620.39,43.53 L620.49,43.93 L620.60,44.33 L620.71,44.73 L620.83,45.13 L620.96,45.53 L621.10,45.93 L621.25,46.33 L621.40,46.73 L621.56,47.13 L621.73,47.53 L621.91,47.93 L622.08,48.33 L622.27,48.73 L622.46,49.13 L622.66,49.53 L622.87,49.93 L623.09,50.33 L623.32,50.73 L623.55,51.14 L623.78,51.54 L624.01,51.94 L624.23,52.34 L624.45,52.74 L624.67,53.14 L624.87,53.54 L625.06,53.94 L625.25,54.34 L625.43,54.74 L625.61,55.14 L625.79,55.54 L625.96,55.94 L626.13,56.34 L626.31,56.74 L626.48,57.14 L626.66,57.54 L626.83,57.94 L627.01,58.34 L627.19,58.74 L627.38,59.14 L627.56,59.54 L627.75,59.94 L627.93,60.34 L628.12,60.74 L628.30,61.14 L628.48,61.54 L628.65,61.94 L628.82,62.34 L628.98,62.74 L629.14,63.15 L629.30,63.55 L629.46,63.95 L629.62,64.35 L629.78,64.75 L629.93,65.15 L630.08,65.55 L630.22,65.95 L630.35,66.35 L630.48,66.75 L630.60,67.15 L630.71,67.55 L630.81,67.95 L630.91,68.35 L631.01,68.75 L631.11,69.15 L631.21,69.55 L631.31,69.95 L631.40,70.35 L631.48,70.75 L631.55,71.15 L631.61,71.55 L631.65,71.95 L631.68,72.35 L631.69,72.75 L631.69,73.15 L631.69,73.55 L631.68,73.95 L631.67,74.35 L631.65,74.75 L631.63,75.16 L631.61,75.56 L631.58,75.96 L631.56,76.36 L631.53,76.76 L631.50,77.16 L631.47,77.56 L631.44,77.96 L631.40,78.36 L631.35,78.76 L631.29,79.16 L631.22,79.56 L631.15,79.96 L631.07,80.36 L630.98,80.76 L630.89,81.16 L630.80,81.56 L630.71,81.96 L630.62,82.36 L630.53,82.76 L630.44,83.16 L630.35,83.56 L630.25,83.96 L630.16,84.36 L630.06,84.76 L629.95,85.16 L629.85,85.56 L629.74,85.96 L629.63,86.36 L629.52,86.76 L629.41,87.17 L629.30,87.57 L629.19,87.97 L629.08,88.37 L628.97,88.77 L628.86,89.17 L628.75,89.57 L628.63,89.97 L628.52,90.37 L628.40,90.77 L628.27,91.17 L628.15,91.57 L628.02,91.97 L627.88,92.37 L627.74,92.77 L627.60,93.17 L627.44,93.57 L627.28,93.97 L627.11,94.37 L626.93,94.77 L626.75,95.17 L626.56,95.57 L626.36,95.97 L626.15,96.37 L625.94,96.77 L625.72,97.17 L625.49,97.57 L625.26,97.97 L625.02,98.37 L624.76,98.77 L624.49,99.18 L624.21,99.58 L623.92,99.98 L623.62,100.38 L623.31,100.78 L623.01,101.18 L622.70,101.58 L622.39,101.98 L622.09,102.38 L621.79,102.78 L621.49,103.18 L621.18,103.58 L620.87,103.98 L620.55,104.38 L620.23,104.78 L619.91,105.18 L619.60,105.58 L619.30,105.98 L619.00,106.38 L618.72,106.78 L618.46,107.18 L618.21,107.58 L617.97,107.98 L617.73,108.38 L617.49,108.78 L617.26,109.18 L617.04,109.58 L616.83,109.98 L616.63,110.38 L616.44,110.78 L616.26,111.19 L616.10,111.59 L615.95,111.99 L615.82,112.39 L615.70,112.79 L615.59,113.19 L615.48,113.59 L615.38,113.99 L615.28,114.39 L615.19,114.79 L615.11,115.19 L615.03,115.59 L614.96,115.99 L614.90,116.39 L614.84,116.79 L614.78,117.19 L614.73,117.59 L614.69,117.99 L614.64,118.39 L614.24,118.79 L614.24,118.79 L613.84,118.39 L613.79,117.99 L613.75,117.59 L613.70,117.19 L613.64,116.79 L613.58,116.39 L613.52,115.99 L613.45,115.59 L613.37,115.19 L613.29,114.79 L613.20,114.39 L613.10,113.99 L613.00,113.59 L612.89,113.19 L612.78,112.79 L612.66,112.39 L612.53,111.99 L612.38,111.59 L612.22,111.19 L612.04,110.78 L611.85,110.38 L611.65,109.98 L611.44,109.58 L611.22,109.18 L610.99,108.78 L610.75,108.38 L610.51,107.98 L610.27,107.58 L610.02,107.18 L609.76,106.78 L609.48,106.38 L609.18,105.98 L608.88,105.58 L608.57,105.18 L608.25,104.78 L607.93,104.38 L607.61,103.98 L607.30,103.58 L606.99,103.18 L606.69,102.78 L606.39,102.38 L606.09,101.98 L605.78,101.58 L605.47,101.18 L605.17,100.78 L604.86,100.38 L604.56,99.98 L604.27,99.58 L603.99,99.18 L603.72,98.77 L603.46,98.37 L603.22,97.97 L602.99,97.57 L602.76,97.17 L602.54,96.77 L602.33,96.37 L602.12,95.97 L601.92,95.57 L601.73,95.17 L601.55,94.77 L601.37,94.37 L601.20,93.97 L601.04,93.57 L600.88,93.17 L600.74,92.77 L600.60,92.37 L600.46,91.97 L600.33,91.57 L600.21,91.17 L600.08,90.77 L599.96,90.37 L599.85,89.97 L599.73,89.57 L599.62,89.17 L599.51,88.77 L599.40,88.37 L599.29,87.97 L599.18,87.57 L599.07,87.17 L598.96,86.76 L598.85,86.36 L598.74,85.96 L598.63,85.56 L598.53,85.16 L598.42,84.76 L598.32,84.36 L598.23,83.96 L598.13,83.56 L598.04,83.16 L597.95,82.76 L597.86,82.36 L597.77,81.96 L597.68,81.56 L597.59,81.16 L597.50,80.76 L597.41,80.36 L597.33,79.96 L597.26,79.56 L597.19,79.16 L597.13,78.76 L597.08,78.36 L597.04,77.96 L597.01,77.56 L596.98,77.16 L596.95,76.76 L596.92,76.36 L596.90,75.96 L596.87,75.56 L596.85,75.16 L596.83,74.75 L596.81,74.35 L596.80,73.95 L596.79,73.55 L596.79,73.15 L596.79,72.75 L596.80,72.35 L596.83,71.95 L596.87,71.55 L596.93,71.15 L597.00,70.75 L597.08,70.35 L597.17,69.95 L597.27,69.55 L597.37,69.15 L597.47,68.75 L597.57,68.35 L597.67,67.95 L597.77,67.55 L597.88,67.15 L598.00,66.75 L598.13,66.35 L598.26,65.95 L598.40,65.55 L598.55,65.15 L598.70,64.75 L598.86,64.35 L599.02,63.95 L599.18,63.55 L599.34,63.15 L599.50,62.74 L599.66,62.34 L599.83,61.94 L600.00,61.54 L600.18,61.14 L600.36,60.74 L600.55,60.34 L600.73,59.94 L600.92,59.54 L601.10,59.14 L601.29,58.74 L601.47,58.34 L601.65,57.94 L601.82,57.54 L602.00,57.14 L602.17,56.74 L602.35,56.34 L602.52,55.94 L602.69,55.54 L602.87,55.14 L603.05,54.74 L603.23,54.34 L603.42,53.94 L603.61,53.54 L603.81,53.14 L604.03,52.74 L604.25,52.34 L604.47,51.94 L604.70,51.54 L604.93,51.14 L605.16,50.73 L605.39,50.33 L605.61,49.93 L605.82,49.53 L606.02,49.13 L606.21,48.73 L606.40,48.33 L606.57,47.93 L606.75,47.53 L606.92,47.13 L607.08,46.73 L607.23,46.33 L607.38,45.93 L607.52,45.53 L607.65,45.13 L607.77,44.73 L607.88,44.33 L607.99,43.93 L608.09,43.53 L608.19,43.13 L608.29,42.73 L608.39,42.33 L608.48,41.93 L608.57,41.53 L608.67,41.13 L608.77,40.73 L608.87,40.33 L608.97,39.93 L609.07,39.53 L609.17,39.13 L609.27,38.72 L609.37,38.32 L609.48,37.92 L609.58,37.52 L609.68,37.12 L609.78,36.72 L609.89,36.32 L609.99,35.92 L610.09,35.52 L610.20,35.12 L610.31,34.72 L610.42,34.32 L610.53,33.92 L610.64,33.52 L610.74,33.12 L610.85,32.72 L610.96,32.32 L611.07,31.92 L611.18,31.52 L611.28,31.12 L611.39,30.72 L611.49,30.32 L611.60,29.92 L611.70,29.52 L611.81,29.12 L611.91,28.72 L612.01,28.32 L612.11,27.92 L612.21,27.52 L612.31,27.12 L612.40,26.71 L612.50,26.31 L612.59,25.91 L612.68,25.51 L612.77,25.11 L612.86,24.71 L612.95,24.31 L613.04,23.91 L613.13,23.51 L613.21,23.11 L613.28,22.71 L613.36,22.31 L613.42,21.91 L613.48,21.51 L613.54,21.11 L613.60,20.71 L613.65,20.31 L613.71,19.91 L613.76,19.51 L613.81,19.11 L614.24,18.71Z" fill="#fff" stroke="#222" stroke-width="0.58" stroke-linejoin="round"/>
<line x1="614.24" x2="614.24" y1="9.10" y2="18.71" stroke="#303030" stroke-width="0.5"/>
<line x1="614.24" x2="614.24" y1="118.79" y2="128.80" stroke="#303030" stroke-width="0.5"/>
<circle cx="401.47" cy="86.7" r="1.82" fill="#000"/>
<circle cx="401.47" cy="92.3" r="1.82" fill="#000"/>
<circle cx="395.91" cy="98.2" r="1.82" fill="#000"/>
<circle cx="401.47" cy="98.2" r="1.82" fill="#000"/>
<circle cx="407.03" cy="98.2" r="1.82" fill="#000"/>
<circle cx="393.13" cy="102.9" r="1.82" fill="#000"/>
<circle cx="398.69" cy="102.9" r="1.82" fill="#000"/>
<circle cx="404.25" cy="102.9" r="1.82" fill="#000"/>
<circle cx="409.81" cy="102.9" r="1.82" fill="#000"/>
<circle cx="390.35" cy="107.1" r="1.82" fill="#000"/>
<circle cx="395.91" cy="107.1" r="1.82" fill="#000"/>
<circle cx="401.47" cy="107.1" r="1.82" fill="#000"/>
<circle cx="407.03" cy="107.1" r="1.82" fill="#000"/>
<circle cx="412.59" cy="107.1" r="1.82" fill="#000"/>
<circle cx="387.57" cy="113.3" r="1.82" fill="#000"/>
<circle cx="393.13" cy="113.3" r="1.82" fill="#000"/>
<circle cx="398.69" cy="113.3" r="1.82" fill="#000"/>
<circle cx="404.25" cy="113.3" r="1.82" fill="#000"/>
<circle cx="409.81" cy="113.3" r="1.82" fill="#000"/>
<circle cx="415.37" cy="113.3" r="1.82" fill="#000"/>
<circle cx="393.13" cy="121.1" r="1.82" fill="#000"/>
<circle cx="398.69" cy="121.1" r="1.82" fill="#000"/>
<circle cx="404.25" cy="121.1" r="1.82" fill="#000"/>
<circle cx="409.81" cy="121.1" r="1.82" fill="#000"/>
<circle cx="393.13" cy="124.9" r="1.82" fill="#000"/>
<circle cx="398.69" cy="124.9" r="1.82" fill="#000"/>
<circle cx="404.25" cy="124.9" r="1.82" fill="#000"/>
<circle cx="409.81" cy="124.9" r="1.82" fill="#000"/>
<circle cx="401.47" cy="130.9" r="1.82" fill="#000"/>
<circle cx="401.47" cy="135.3" r="1.82" fill="#000"/>
<line x1="401.47" x2="401.47" y1="100" y2="122.6" stroke="#ea7878" stroke-width="0.5"/>
<path d="M401.47,108.6 L403.77000000000004,112.7 L399.17,112.7Z" fill="#e01010"/>
<circle cx="472.36" cy="63.7" r="1.82" fill="#000"/>
<circle cx="469.58" cy="66.9" r="1.82" fill="#000"/>
<circle cx="475.14" cy="66.9" r="1.82" fill="#000"/>
<circle cx="464.02" cy="72.6" r="1.82" fill="#000"/>
<circle cx="469.58" cy="72.6" r="1.82" fill="#000"/>
<circle cx="475.14" cy="72.6" r="1.82" fill="#000"/>
<circle cx="480.70" cy="72.6" r="1.82" fill="#000"/>
<circle cx="461.24" cy="84.7" r="1.82" fill="#000"/>
<circle cx="466.80" cy="84.7" r="1.82" fill="#000"/>
<circle cx="472.36" cy="84.7" r="1.82" fill="#000"/>
<circle cx="477.92" cy="84.7" r="1.82" fill="#000"/>
<circle cx="483.48" cy="84.7" r="1.82" fill="#000"/>
<circle cx="452.90" cy="92.3" r="1.82" fill="#000"/>
<circle cx="458.46" cy="92.3" r="1.82" fill="#000"/>
<circle cx="464.02" cy="92.3" r="1.82" fill="#000"/>
<circle cx="469.58" cy="92.3" r="1.82" fill="#000"/>
<circle cx="475.14" cy="92.3" r="1.82" fill="#000"/>
<circle cx="480.70" cy="92.3" r="1.82" fill="#000"/>
<circle cx="486.26" cy="92.3" r="1.82" fill="#000"/>
<circle cx="491.82" cy="92.3" r="1.82" fill="#000"/>
<circle cx="464.02" cy="97.8" r="1.82" fill="#000"/>
<circle cx="469.58" cy="97.8" r="1.82" fill="#000"/>
<circle cx="475.14" cy="97.8" r="1.82" fill="#000"/>
<circle cx="480.70" cy="97.8" r="1.82" fill="#000"/>
<circle cx="469.58" cy="103.5" r="1.82" fill="#000"/>
<circle cx="475.14" cy="103.5" r="1.82" fill="#000"/>
<circle cx="472.36" cy="112" r="1.82" fill="#000"/>
<circle cx="469.58" cy="115.8" r="1.82" fill="#000"/>
<circle cx="475.14" cy="115.8" r="1.82" fill="#000"/>
<line x1="472.36" x2="472.36" y1="75.8" y2="103.2" stroke="#ea7878" stroke-width="0.5"/>
<circle cx="472.36" cy="89.6" r="1.8" fill="#e01010"/>
<circle cx="540.58" cy="89.4" r="1.82" fill="#000"/>
<circle cx="546.14" cy="89.4" r="1.82" fill="#000"/>
<circle cx="537.80" cy="93.9" r="1.82" fill="#000"/>
<circle cx="543.36" cy="93.9" r="1.82" fill="#000"/>
<circle cx="548.92" cy="93.9" r="1.82" fill="#000"/>
<circle cx="540.58" cy="98.9" r="1.82" fill="#000"/>
<circle cx="546.14" cy="98.9" r="1.82" fill="#000"/>
<circle cx="529.46" cy="102" r="1.82" fill="#000"/>
<circle cx="535.02" cy="102" r="1.82" fill="#000"/>
<circle cx="540.58" cy="102" r="1.82" fill="#000"/>
<circle cx="546.14" cy="102" r="1.82" fill="#000"/>
<circle cx="551.70" cy="102" r="1.82" fill="#000"/>
<circle cx="557.26" cy="102" r="1.82" fill="#000"/>
<circle cx="532.24" cy="106.4" r="1.82" fill="#000"/>
<circle cx="537.80" cy="106.4" r="1.82" fill="#000"/>
<circle cx="543.36" cy="106.4" r="1.82" fill="#000"/>
<circle cx="548.92" cy="106.4" r="1.82" fill="#000"/>
<circle cx="554.48" cy="106.4" r="1.82" fill="#000"/>
<circle cx="540.58" cy="117.1" r="1.82" fill="#000"/>
<circle cx="546.14" cy="117.1" r="1.82" fill="#000"/>
<circle cx="535.02" cy="121.8" r="1.82" fill="#000"/>
<circle cx="540.58" cy="121.8" r="1.82" fill="#000"/>
<circle cx="546.14" cy="121.8" r="1.82" fill="#000"/>
<circle cx="551.70" cy="121.8" r="1.82" fill="#000"/>
<circle cx="537.80" cy="126.5" r="1.82" fill="#000"/>
<circle cx="543.36" cy="126.5" r="1.82" fill="#000"/>
<circle cx="548.92" cy="126.5" r="1.82" fill="#000"/>
<circle cx="540.58" cy="133.6" r="1.82" fill="#000"/>
<circle cx="546.14" cy="133.6" r="1.82" fill="#000"/>
<circle cx="543.36" cy="145" r="1.82" fill="#000"/>
<line x1="543.36" x2="543.36" y1="98.3" y2="125" stroke="#ea7878" stroke-width="0.5"/>
<circle cx="543.36" cy="110.5" r="1.6" fill="#e01010"/>
<circle cx="611.46" cy="34.9" r="1.82" fill="#000"/>
<circle cx="617.02" cy="34.9" r="1.82" fill="#000"/>
<circle cx="614.24" cy="42.5" r="1.82" fill="#000"/>
<circle cx="614.24" cy="51.1" r="1.82" fill="#000"/>
<circle cx="608.68" cy="54.06" r="1.82" fill="#000"/>
<circle cx="614.24" cy="54.06" r="1.82" fill="#000"/>
<circle cx="619.80" cy="54.06" r="1.82" fill="#000"/>
<circle cx="608.68" cy="64.1" r="1.82" fill="#000"/>
<circle cx="614.24" cy="64.1" r="1.82" fill="#000"/>
<circle cx="619.80" cy="64.1" r="1.82" fill="#000"/>
<circle cx="600.34" cy="70" r="1.82" fill="#000"/>
<circle cx="605.90" cy="70" r="1.82" fill="#000"/>
<circle cx="611.46" cy="70" r="1.82" fill="#000"/>
<circle cx="617.02" cy="70" r="1.82" fill="#000"/>
<circle cx="622.58" cy="70" r="1.82" fill="#000"/>
<circle cx="628.14" cy="70" r="1.82" fill="#000"/>
<circle cx="605.90" cy="78.9" r="1.82" fill="#000"/>
<circle cx="611.46" cy="78.9" r="1.82" fill="#000"/>
<circle cx="617.02" cy="78.9" r="1.82" fill="#000"/>
<circle cx="622.58" cy="78.9" r="1.82" fill="#000"/>
<circle cx="608.68" cy="84.8" r="1.82" fill="#000"/>
<circle cx="614.24" cy="84.8" r="1.82" fill="#000"/>
<circle cx="619.80" cy="84.8" r="1.82" fill="#000"/>
<circle cx="605.90" cy="92.5" r="1.82" fill="#000"/>
<circle cx="611.46" cy="92.5" r="1.82" fill="#000"/>
<circle cx="617.02" cy="92.5" r="1.82" fill="#000"/>
<circle cx="622.58" cy="92.5" r="1.82" fill="#000"/>
<circle cx="611.46" cy="97" r="1.82" fill="#000"/>
<circle cx="617.02" cy="97" r="1.82" fill="#000"/>
<circle cx="614.24" cy="103.7" r="1.82" fill="#000"/>
<line x1="614.24" x2="614.24" y1="52.3" y2="90.1" stroke="#ea7878" stroke-width="0.5"/>
<circle cx="614.24" cy="72.4" r="1.8" fill="#e01010"/>
<rect x="633.8" y="146.3" width="24.70" height="28.10" fill="#fff"/>
<text x="644.5" y="165.5" font-family="Liberation Sans, sans-serif" font-weight="bold" font-size="16.4" text-anchor="middle" fill="#000" transform="translate(644.5,0) scale(0.9,1) translate(-644.5,0)">b</text>
<line x1="357.8" x2="359.2" y1="135.75" y2="135.75" stroke="#555" stroke-width="0.5"/>
<text x="357.4" y="138.75" font-family="Liberation Sans, sans-serif" font-size="7.1" text-anchor="end" fill="#444">2</text>
<line x1="357.8" x2="359.2" y1="74.0" y2="74.0" stroke="#555" stroke-width="0.5"/>
<text x="357.4" y="77.0" font-family="Liberation Sans, sans-serif" font-size="7.1" text-anchor="end" fill="#444">4</text>
<line x1="357.8" x2="359.2" y1="12.2" y2="12.2" stroke="#555" stroke-width="0.5"/>
<text x="357.4" y="15.2" font-family="Liberation Sans, sans-serif" font-size="7.1" text-anchor="end" fill="#444">6</text>
<line x1="401.47" x2="401.47" y1="172.4" y2="173.8" stroke="#555" stroke-width="0.5"/>
<text x="401.47" y="179.9" font-family="Liberation Sans, sans-serif" font-size="6.8" text-anchor="middle" fill="#4d4d4d">IM</text>
<line x1="472.36" x2="472.36" y1="172.4" y2="173.8" stroke="#555" stroke-width="0.5"/>
<text x="472.36" y="179.9" font-family="Liberation Sans, sans-serif" font-size="6.8" text-anchor="middle" fill="#4d4d4d">BM</text>
<line x1="543.36" x2="543.36" y1="172.4" y2="173.8" stroke="#555" stroke-width="0.5"/>
<text x="543.36" y="179.9" font-family="Liberation Sans, sans-serif" font-size="6.8" text-anchor="middle" fill="#4d4d4d">CM</text>
<line x1="614.24" x2="614.24" y1="172.4" y2="173.8" stroke="#555" stroke-width="0.5"/>
<text x="614.24" y="179.9" font-family="Liberation Sans, sans-serif" font-size="6.8" text-anchor="middle" fill="#4d4d4d">UC</text>
<text x="508.35" y="188.6" font-family="Liberation Sans, sans-serif" font-size="8.9" text-anchor="middle" fill="#111" stroke="#111" stroke-width="0.06">Treatment</text>
<text x="350.59999999999997" y="86.85000000000001" font-family="Liberation Sans, sans-serif" font-size="8.95" text-anchor="middle" fill="#111" stroke="#111" stroke-width="0.06" transform="rotate(-90 350.59999999999997 86.85000000000001)">Whitefly/Plant</text>
<rect x="200.9" y="192.6" width="286.30" height="167.90" fill="#ebebeb"/>
<line x1="200.9" x2="487.2" y1="311.9" y2="311.9" stroke="#f1f1f1" stroke-width="0.6"/>
<line x1="200.9" x2="487.2" y1="262.75" y2="262.75" stroke="#f1f1f1" stroke-width="0.6"/>
<line x1="200.9" x2="487.2" y1="213.6" y2="213.6" stroke="#f1f1f1" stroke-width="0.6"/>
<line x1="200.9" x2="487.2" y1="336.25" y2="336.25" stroke="#f3f3f3" stroke-width="0.8"/>
<line x1="200.9" x2="487.2" y1="287.5" y2="287.5" stroke="#f3f3f3" stroke-width="0.8"/>
<line x1="200.9" x2="487.2" y1="238.0" y2="238.0" stroke="#f3f3f3" stroke-width="0.8"/>
<line x1="241.76" x2="241.76" y1="192.6" y2="360.5" stroke="#f6f6f6" stroke-width="0.8"/>
<line x1="310.0" x2="310.0" y1="192.6" y2="360.5" stroke="#f6f6f6" stroke-width="0.8"/>
<line x1="378.3" x2="378.3" y1="192.6" y2="360.5" stroke="#f6f6f6" stroke-width="0.8"/>
<line x1="446.36" x2="446.36" y1="192.6" y2="360.5" stroke="#f6f6f6" stroke-width="0.8"/>
<path d="M241.76,273.83 L242.24,274.23 L242.32,274.63 L242.42,275.03 L242.51,275.43 L242.61,275.83 L242.73,276.23 L242.86,276.63 L242.99,277.04 L243.14,277.44 L243.29,277.84 L243.45,278.24 L243.61,278.64 L243.77,279.04 L243.94,279.44 L244.12,279.85 L244.31,280.25 L244.50,280.65 L244.70,281.05 L244.90,281.45 L245.11,281.85 L245.31,282.25 L245.51,282.66 L245.71,283.06 L245.92,283.46 L246.14,283.86 L246.35,284.26 L246.56,284.66 L246.77,285.06 L246.96,285.47 L247.14,285.87 L247.30,286.27 L247.45,286.67 L247.59,287.07 L247.73,287.47 L247.86,287.87 L247.99,288.28 L248.10,288.68 L248.21,289.08 L248.32,289.48 L248.42,289.88 L248.51,290.28 L248.59,290.68 L248.67,291.08 L248.75,291.49 L248.82,291.89 L248.89,292.29 L248.96,292.69 L249.03,293.09 L249.11,293.49 L249.18,293.89 L249.25,294.30 L249.32,294.70 L249.38,295.10 L249.45,295.50 L249.52,295.90 L249.59,296.30 L249.65,296.70 L249.72,297.11 L249.79,297.51 L249.85,297.91 L249.91,298.31 L249.97,298.71 L250.04,299.11 L250.11,299.51 L250.18,299.92 L250.25,300.32 L250.34,300.72 L250.43,301.12 L250.53,301.52 L250.63,301.92 L250.74,302.32 L250.84,302.73 L250.95,303.13 L251.05,303.53 L251.15,303.93 L251.24,304.33 L251.32,304.73 L251.40,305.13 L251.47,305.53 L251.55,305.94 L251.63,306.34 L251.72,306.74 L251.83,307.14 L251.95,307.54 L252.10,307.94 L252.29,308.34 L252.52,308.75 L252.78,309.15 L253.06,309.55 L253.37,309.95 L253.69,310.35 L254.03,310.75 L254.37,311.15 L254.74,311.56 L255.14,311.96 L255.58,312.36 L256.04,312.76 L256.53,313.16 L257.03,313.56 L257.54,313.96 L258.05,314.37 L258.55,314.77 L259.07,315.17 L259.63,315.57 L260.20,315.97 L260.78,316.37 L261.36,316.77 L261.92,317.18 L262.45,317.58 L262.95,317.98 L263.41,318.38 L263.86,318.78 L264.32,319.18 L264.77,319.58 L265.20,319.98 L265.60,320.39 L265.96,320.79 L266.25,321.19 L266.48,321.59 L266.63,321.99 L266.77,322.39 L266.89,322.79 L267.01,323.20 L267.11,323.60 L267.20,324.00 L267.27,324.40 L267.33,324.80 L267.36,325.20 L267.36,325.60 L267.30,326.01 L267.15,326.41 L266.95,326.81 L266.69,327.21 L266.39,327.61 L266.06,328.01 L265.71,328.41 L265.35,328.82 L265.00,329.22 L264.61,329.62 L264.16,330.02 L263.65,330.42 L263.10,330.82 L262.52,331.22 L261.92,331.62 L261.32,332.03 L260.73,332.43 L260.15,332.83 L259.58,333.23 L259.00,333.63 L258.42,334.03 L257.83,334.43 L257.23,334.84 L256.62,335.24 L256.00,335.64 L255.38,336.04 L254.74,336.44 L254.08,336.84 L253.39,337.24 L252.69,337.65 L251.98,338.05 L251.28,338.45 L250.59,338.85 L249.93,339.25 L249.29,339.65 L248.69,340.05 L248.09,340.46 L247.49,340.86 L246.90,341.26 L246.33,341.66 L245.79,342.06 L245.28,342.46 L244.82,342.86 L244.41,343.27 L244.05,343.67 L243.71,344.07 L243.40,344.47 L243.11,344.87 L242.87,345.27 L242.67,345.67 L242.52,346.08 L242.39,346.48 L242.27,346.88 L241.76,347.28 L241.76,347.28 L241.25,346.88 L241.13,346.48 L241.00,346.08 L240.85,345.67 L240.65,345.27 L240.41,344.87 L240.12,344.47 L239.81,344.07 L239.47,343.67 L239.11,343.27 L238.70,342.86 L238.24,342.46 L237.73,342.06 L237.19,341.66 L236.62,341.26 L236.03,340.86 L235.43,340.46 L234.83,340.05 L234.23,339.65 L233.59,339.25 L232.93,338.85 L232.24,338.45 L231.54,338.05 L230.83,337.65 L230.13,337.24 L229.44,336.84 L228.78,336.44 L228.14,336.04 L227.52,335.64 L226.90,335.24 L226.29,334.84 L225.69,334.43 L225.10,334.03 L224.52,333.63 L223.94,333.23 L223.37,332.83 L222.79,332.43 L222.20,332.03 L221.60,331.62 L221.00,331.22 L220.42,330.82 L219.87,330.42 L219.36,330.02 L218.91,329.62 L218.52,329.22 L218.17,328.82 L217.81,328.41 L217.46,328.01 L217.13,327.61 L216.83,327.21 L216.57,326.81 L216.37,326.41 L216.22,326.01 L216.16,325.60 L216.16,325.20 L216.19,324.80 L216.25,324.40 L216.32,324.00 L216.41,323.60 L216.51,323.20 L216.63,322.79 L216.75,322.39 L216.89,321.99 L217.04,321.59 L217.27,321.19 L217.56,320.79 L217.92,320.39 L218.32,319.98 L218.75,319.58 L219.20,319.18 L219.66,318.78 L220.11,318.38 L220.57,317.98 L221.07,317.58 L221.60,317.18 L222.16,316.77 L222.74,316.37 L223.32,315.97 L223.89,315.57 L224.45,315.17 L224.97,314.77 L225.47,314.37 L225.98,313.96 L226.49,313.56 L226.99,313.16 L227.48,312.76 L227.94,312.36 L228.38,311.96 L228.78,311.56 L229.15,311.15 L229.49,310.75 L229.83,310.35 L230.15,309.95 L230.46,309.55 L230.74,309.15 L231.00,308.75 L231.23,308.34 L231.42,307.94 L231.57,307.54 L231.69,307.14 L231.80,306.74 L231.89,306.34 L231.97,305.94 L232.05,305.53 L232.12,305.13 L232.20,304.73 L232.28,304.33 L232.37,303.93 L232.47,303.53 L232.57,303.13 L232.68,302.73 L232.78,302.32 L232.89,301.92 L232.99,301.52 L233.09,301.12 L233.18,300.72 L233.27,300.32 L233.34,299.92 L233.41,299.51 L233.48,299.11 L233.55,298.71 L233.61,298.31 L233.67,297.91 L233.73,297.51 L233.80,297.11 L233.87,296.70 L233.93,296.30 L234.00,295.90 L234.07,295.50 L234.14,295.10 L234.20,294.70 L234.27,294.30 L234.34,293.89 L234.41,293.49 L234.49,293.09 L234.56,292.69 L234.63,292.29 L234.70,291.89 L234.77,291.49 L234.85,291.08 L234.93,290.68 L235.01,290.28 L235.10,289.88 L235.20,289.48 L235.31,289.08 L235.42,288.68 L235.53,288.28 L235.66,287.87 L235.79,287.47 L235.93,287.07 L236.07,286.67 L236.22,286.27 L236.38,285.87 L236.56,285.47 L236.75,285.06 L236.96,284.66 L237.17,284.26 L237.38,283.86 L237.60,283.46 L237.81,283.06 L238.01,282.66 L238.21,282.25 L238.41,281.85 L238.62,281.45 L238.82,281.05 L239.02,280.65 L239.21,280.25 L239.40,279.85 L239.58,279.44 L239.75,279.04 L239.91,278.64 L240.07,278.24 L240.23,277.84 L240.38,277.44 L240.53,277.04 L240.66,276.63 L240.79,276.23 L240.91,275.83 L241.01,275.43 L241.10,275.03 L241.20,274.63 L241.28,274.23 L241.76,273.83Z" fill="#fff" stroke="#222" stroke-width="0.58" stroke-linejoin="round"/>
<line x1="241.76" x2="241.76" y1="266.60" y2="273.83" stroke="#303030" stroke-width="0.5"/>
<line x1="241.76" x2="241.76" y1="347.28" y2="353.30" stroke="#303030" stroke-width="0.5"/>
<path d="M310.00,257.33 L310.51,257.73 L310.65,258.13 L310.79,258.53 L310.95,258.93 L311.12,259.33 L311.32,259.74 L311.53,260.14 L311.75,260.54 L311.97,260.94 L312.21,261.34 L312.46,261.74 L312.71,262.14 L312.97,262.54 L313.21,262.95 L313.46,263.35 L313.71,263.75 L313.96,264.15 L314.20,264.55 L314.45,264.95 L314.70,265.35 L314.95,265.76 L315.20,266.16 L315.44,266.56 L315.67,266.96 L315.88,267.36 L316.08,267.76 L316.28,268.16 L316.47,268.57 L316.65,268.97 L316.84,269.37 L317.03,269.77 L317.21,270.17 L317.39,270.57 L317.57,270.97 L317.74,271.37 L317.91,271.78 L318.08,272.18 L318.24,272.58 L318.40,272.98 L318.55,273.38 L318.70,273.78 L318.85,274.18 L319.00,274.59 L319.14,274.99 L319.27,275.39 L319.40,275.79 L319.52,276.19 L319.64,276.59 L319.75,276.99 L319.85,277.40 L319.96,277.80 L320.06,278.20 L320.16,278.60 L320.25,279.00 L320.34,279.40 L320.43,279.80 L320.52,280.20 L320.61,280.61 L320.70,281.01 L320.78,281.41 L320.86,281.81 L320.93,282.21 L321.00,282.61 L321.07,283.01 L321.13,283.42 L321.19,283.82 L321.25,284.22 L321.31,284.62 L321.36,285.02 L321.42,285.42 L321.48,285.82 L321.55,286.22 L321.62,286.63 L321.70,287.03 L321.78,287.43 L321.86,287.83 L321.94,288.23 L322.01,288.63 L322.08,289.03 L322.14,289.44 L322.20,289.84 L322.26,290.24 L322.32,290.64 L322.40,291.04 L322.47,291.44 L322.56,291.84 L322.64,292.25 L322.74,292.65 L322.84,293.05 L322.94,293.45 L323.06,293.85 L323.18,294.25 L323.31,294.65 L323.45,295.05 L323.62,295.46 L323.80,295.86 L324.00,296.26 L324.22,296.66 L324.44,297.06 L324.67,297.46 L324.91,297.86 L325.15,298.27 L325.41,298.67 L325.69,299.07 L326.00,299.47 L326.31,299.87 L326.63,300.27 L326.95,300.67 L327.25,301.08 L327.53,301.48 L327.79,301.88 L328.05,302.28 L328.32,302.68 L328.60,303.08 L328.86,303.48 L329.10,303.88 L329.30,304.29 L329.47,304.69 L329.57,305.09 L329.62,305.49 L329.66,305.89 L329.70,306.29 L329.73,306.69 L329.75,307.10 L329.77,307.50 L329.79,307.90 L329.80,308.30 L329.80,308.70 L329.79,309.10 L329.71,309.50 L329.57,309.90 L329.37,310.31 L329.14,310.71 L328.87,311.11 L328.58,311.51 L328.28,311.91 L327.97,312.31 L327.64,312.71 L327.23,313.12 L326.76,313.52 L326.23,313.92 L325.67,314.32 L325.08,314.72 L324.49,315.12 L323.90,315.52 L323.34,315.93 L322.78,316.33 L322.20,316.73 L321.60,317.13 L321.00,317.53 L320.40,317.93 L319.81,318.33 L319.23,318.73 L318.68,319.14 L318.16,319.54 L317.67,319.94 L317.18,320.34 L316.71,320.74 L316.25,321.14 L315.81,321.54 L315.38,321.95 L314.96,322.35 L314.56,322.75 L314.18,323.15 L313.80,323.55 L313.43,323.95 L313.06,324.35 L312.71,324.76 L312.38,325.16 L312.06,325.56 L311.77,325.96 L311.50,326.36 L311.25,326.76 L311.00,327.16 L310.75,327.56 L310.54,327.97 L310.00,328.37 L310.00,328.37 L309.46,327.97 L309.25,327.56 L309.00,327.16 L308.75,326.76 L308.50,326.36 L308.23,325.96 L307.94,325.56 L307.62,325.16 L307.29,324.76 L306.94,324.35 L306.57,323.95 L306.20,323.55 L305.82,323.15 L305.44,322.75 L305.04,322.35 L304.62,321.95 L304.19,321.54 L303.75,321.14 L303.29,320.74 L302.82,320.34 L302.33,319.94 L301.84,319.54 L301.32,319.14 L300.77,318.73 L300.19,318.33 L299.60,317.93 L299.00,317.53 L298.40,317.13 L297.80,316.73 L297.22,316.33 L296.66,315.93 L296.10,315.52 L295.51,315.12 L294.92,314.72 L294.33,314.32 L293.77,313.92 L293.24,313.52 L292.77,313.12 L292.36,312.71 L292.03,312.31 L291.72,311.91 L291.42,311.51 L291.13,311.11 L290.86,310.71 L290.63,310.31 L290.43,309.90 L290.29,309.50 L290.21,309.10 L290.20,308.70 L290.20,308.30 L290.21,307.90 L290.23,307.50 L290.25,307.10 L290.27,306.69 L290.30,306.29 L290.34,305.89 L290.38,305.49 L290.43,305.09 L290.53,304.69 L290.70,304.29 L290.90,303.88 L291.14,303.48 L291.40,303.08 L291.68,302.68 L291.95,302.28 L292.21,301.88 L292.47,301.48 L292.75,301.08 L293.05,300.67 L293.37,300.27 L293.69,299.87 L294.00,299.47 L294.31,299.07 L294.59,298.67 L294.85,298.27 L295.09,297.86 L295.33,297.46 L295.56,297.06 L295.78,296.66 L296.00,296.26 L296.20,295.86 L296.38,295.46 L296.55,295.05 L296.69,294.65 L296.82,294.25 L296.94,293.85 L297.06,293.45 L297.16,293.05 L297.26,292.65 L297.36,292.25 L297.44,291.84 L297.53,291.44 L297.60,291.04 L297.68,290.64 L297.74,290.24 L297.80,289.84 L297.86,289.44 L297.92,289.03 L297.99,288.63 L298.06,288.23 L298.14,287.83 L298.22,287.43 L298.30,287.03 L298.38,286.63 L298.45,286.22 L298.52,285.82 L298.58,285.42 L298.64,285.02 L298.69,284.62 L298.75,284.22 L298.81,283.82 L298.87,283.42 L298.93,283.01 L299.00,282.61 L299.07,282.21 L299.14,281.81 L299.22,281.41 L299.30,281.01 L299.39,280.61 L299.48,280.20 L299.57,279.80 L299.66,279.40 L299.75,279.00 L299.84,278.60 L299.94,278.20 L300.04,277.80 L300.15,277.40 L300.25,276.99 L300.36,276.59 L300.48,276.19 L300.60,275.79 L300.73,275.39 L300.86,274.99 L301.00,274.59 L301.15,274.18 L301.30,273.78 L301.45,273.38 L301.60,272.98 L301.76,272.58 L301.92,272.18 L302.09,271.78 L302.26,271.37 L302.43,270.97 L302.61,270.57 L302.79,270.17 L302.97,269.77 L303.16,269.37 L303.35,268.97 L303.53,268.57 L303.72,268.16 L303.92,267.76 L304.12,267.36 L304.33,266.96 L304.56,266.56 L304.80,266.16 L305.05,265.76 L305.30,265.35 L305.55,264.95 L305.80,264.55 L306.04,264.15 L306.29,263.75 L306.54,263.35 L306.79,262.95 L307.03,262.54 L307.29,262.14 L307.54,261.74 L307.79,261.34 L308.03,260.94 L308.25,260.54 L308.47,260.14 L308.68,259.74 L308.88,259.33 L309.05,258.93 L309.21,258.53 L309.35,258.13 L309.49,257.73 L310.00,257.33Z" fill="#fff" stroke="#222" stroke-width="0.58" stroke-linejoin="round"/>
<line x1="310.0" x2="310.0" y1="249.30" y2="257.33" stroke="#303030" stroke-width="0.5"/>
<line x1="310.0" x2="310.0" y1="328.37" y2="338.00" stroke="#303030" stroke-width="0.5"/>
<path d="M378.30,289.32 L378.73,289.72 L378.82,290.12 L378.92,290.52 L379.04,290.92 L379.19,291.32 L379.39,291.72 L379.62,292.12 L379.89,292.53 L380.18,292.93 L380.51,293.33 L380.91,293.73 L381.35,294.13 L381.84,294.53 L382.34,294.93 L382.86,295.34 L383.45,295.74 L384.06,296.14 L384.67,296.54 L385.31,296.94 L385.97,297.34 L386.62,297.74 L387.22,298.14 L387.79,298.55 L388.34,298.95 L388.87,299.35 L389.40,299.75 L389.93,300.15 L390.48,300.55 L391.05,300.95 L391.63,301.35 L392.20,301.76 L392.76,302.16 L393.28,302.56 L393.80,302.96 L394.32,303.36 L394.83,303.76 L395.31,304.16 L395.75,304.56 L396.14,304.97 L396.45,305.37 L396.74,305.77 L397.03,306.17 L397.30,306.57 L397.52,306.97 L397.69,307.37 L397.79,307.78 L397.80,308.18 L397.78,308.58 L397.74,308.98 L397.70,309.38 L397.65,309.78 L397.62,310.18 L397.60,310.58 L397.70,310.99 L397.95,311.39 L398.34,311.79 L398.80,312.19 L399.30,312.59 L399.79,312.99 L400.34,313.39 L400.98,313.79 L401.70,314.20 L402.42,314.60 L403.12,315.00 L403.75,315.40 L404.36,315.80 L404.95,316.20 L405.53,316.60 L406.08,317.01 L406.57,317.41 L407.02,317.81 L407.44,318.21 L407.85,318.61 L408.23,319.01 L408.55,319.41 L408.81,319.81 L409.00,320.22 L409.17,320.62 L409.32,321.02 L409.43,321.42 L409.50,321.82 L409.48,322.22 L409.34,322.62 L409.10,323.02 L408.80,323.43 L408.48,323.83 L408.09,324.23 L407.58,324.63 L406.98,325.03 L406.32,325.43 L405.63,325.83 L404.94,326.24 L404.21,326.64 L403.41,327.04 L402.56,327.44 L401.70,327.84 L400.84,328.24 L400.02,328.64 L399.21,329.04 L398.40,329.45 L397.60,329.85 L396.80,330.25 L396.00,330.65 L395.21,331.05 L394.42,331.45 L393.64,331.85 L392.86,332.25 L392.08,332.66 L391.29,333.06 L390.49,333.46 L389.65,333.86 L388.79,334.26 L387.93,334.66 L387.11,335.06 L386.34,335.46 L385.64,335.87 L384.98,336.27 L384.35,336.67 L383.75,337.07 L383.19,337.47 L382.67,337.87 L382.20,338.27 L381.74,338.68 L381.32,339.08 L380.92,339.48 L380.55,339.88 L380.23,340.28 L379.93,340.68 L379.65,341.08 L379.38,341.48 L379.15,341.89 L378.95,342.29 L378.81,342.69 L378.30,343.09 L378.30,343.09 L377.79,342.69 L377.65,342.29 L377.45,341.89 L377.22,341.48 L376.95,341.08 L376.67,340.68 L376.37,340.28 L376.05,339.88 L375.68,339.48 L375.28,339.08 L374.86,338.68 L374.40,338.27 L373.93,337.87 L373.41,337.47 L372.85,337.07 L372.25,336.67 L371.62,336.27 L370.96,335.87 L370.26,335.46 L369.49,335.06 L368.67,334.66 L367.81,334.26 L366.95,333.86 L366.11,333.46 L365.31,333.06 L364.52,332.66 L363.74,332.25 L362.96,331.85 L362.18,331.45 L361.39,331.05 L360.60,330.65 L359.80,330.25 L359.00,329.85 L358.20,329.45 L357.39,329.04 L356.58,328.64 L355.76,328.24 L354.90,327.84 L354.04,327.44 L353.19,327.04 L352.39,326.64 L351.66,326.24 L350.97,325.83 L350.28,325.43 L349.62,325.03 L349.02,324.63 L348.51,324.23 L348.12,323.83 L347.80,323.43 L347.50,323.02 L347.26,322.62 L347.12,322.22 L347.10,321.82 L347.17,321.42 L347.28,321.02 L347.43,320.62 L347.60,320.22 L347.79,319.81 L348.05,319.41 L348.37,319.01 L348.75,318.61 L349.16,318.21 L349.58,317.81 L350.03,317.41 L350.52,317.01 L351.07,316.60 L351.65,316.20 L352.24,315.80 L352.85,315.40 L353.48,315.00 L354.18,314.60 L354.90,314.20 L355.62,313.79 L356.26,313.39 L356.81,312.99 L357.30,312.59 L357.80,312.19 L358.26,311.79 L358.65,311.39 L358.90,310.99 L359.00,310.58 L358.98,310.18 L358.95,309.78 L358.90,309.38 L358.86,308.98 L358.82,308.58 L358.80,308.18 L358.81,307.78 L358.91,307.37 L359.08,306.97 L359.30,306.57 L359.57,306.17 L359.86,305.77 L360.15,305.37 L360.46,304.97 L360.85,304.56 L361.29,304.16 L361.77,303.76 L362.28,303.36 L362.80,302.96 L363.32,302.56 L363.84,302.16 L364.40,301.76 L364.97,301.35 L365.55,300.95 L366.12,300.55 L366.67,300.15 L367.20,299.75 L367.73,299.35 L368.26,298.95 L368.81,298.55 L369.38,298.14 L369.98,297.74 L370.63,297.34 L371.29,296.94 L371.93,296.54 L372.54,296.14 L373.15,295.74 L373.74,295.34 L374.26,294.93 L374.76,294.53 L375.25,294.13 L375.69,293.73 L376.09,293.33 L376.42,292.93 L376.71,292.53 L376.98,292.12 L377.21,291.72 L377.41,291.32 L377.56,290.92 L377.68,290.52 L377.78,290.12 L377.87,289.72 L378.30,289.32Z" fill="#fff" stroke="#222" stroke-width="0.58" stroke-linejoin="round"/>
<line x1="378.3" x2="378.3" y1="284.50" y2="289.32" stroke="#303030" stroke-width="0.5"/>
<line x1="378.3" x2="378.3" y1="343.09" y2="346.30" stroke="#303030" stroke-width="0.5"/>
<path d="M446.36,213.31 L446.80,213.71 L446.84,214.11 L446.89,214.51 L446.94,214.91 L447.00,215.31 L447.05,215.71 L447.12,216.11 L447.18,216.51 L447.25,216.91 L447.32,217.31 L447.40,217.71 L447.48,218.11 L447.56,218.51 L447.64,218.91 L447.72,219.31 L447.81,219.71 L447.89,220.11 L447.98,220.51 L448.08,220.91 L448.18,221.31 L448.28,221.71 L448.38,222.11 L448.48,222.51 L448.59,222.92 L448.69,223.32 L448.80,223.72 L448.91,224.12 L449.02,224.52 L449.13,224.92 L449.24,225.32 L449.36,225.72 L449.48,226.12 L449.60,226.52 L449.72,226.92 L449.84,227.32 L449.96,227.72 L450.08,228.12 L450.20,228.52 L450.32,228.92 L450.45,229.32 L450.57,229.72 L450.69,230.12 L450.81,230.52 L450.93,230.92 L451.06,231.32 L451.18,231.72 L451.31,232.12 L451.43,232.52 L451.56,232.92 L451.69,233.32 L451.82,233.72 L451.95,234.12 L452.08,234.52 L452.21,234.92 L452.35,235.32 L452.48,235.72 L452.62,236.12 L452.76,236.52 L452.90,236.92 L453.05,237.32 L453.20,237.73 L453.36,238.13 L453.53,238.53 L453.71,238.93 L453.88,239.33 L454.05,239.73 L454.22,240.13 L454.37,240.53 L454.51,240.93 L454.63,241.33 L454.72,241.73 L454.82,242.13 L454.92,242.53 L455.01,242.93 L455.10,243.33 L455.19,243.73 L455.26,244.13 L455.33,244.53 L455.39,244.93 L455.43,245.33 L455.46,245.73 L455.47,246.13 L455.47,246.53 L455.46,246.93 L455.45,247.33 L455.43,247.73 L455.40,248.13 L455.38,248.53 L455.35,248.93 L455.31,249.33 L455.28,249.73 L455.24,250.13 L455.20,250.53 L455.17,250.93 L455.12,251.33 L455.07,251.73 L455.00,252.13 L454.93,252.54 L454.85,252.94 L454.77,253.34 L454.68,253.74 L454.60,254.14 L454.51,254.54 L454.42,254.94 L454.34,255.34 L454.26,255.74 L454.18,256.14 L454.10,256.54 L454.01,256.94 L453.92,257.34 L453.83,257.74 L453.75,258.14 L453.66,258.54 L453.59,258.94 L453.51,259.34 L453.45,259.74 L453.40,260.14 L453.36,260.54 L453.32,260.94 L453.28,261.34 L453.25,261.74 L453.21,262.14 L453.18,262.54 L453.15,262.94 L453.13,263.34 L453.11,263.74 L453.09,264.14 L453.08,264.54 L453.07,264.94 L453.07,265.34 L453.07,265.74 L453.07,266.14 L453.07,266.54 L453.07,266.94 L453.07,267.35 L453.07,267.75 L453.07,268.15 L453.07,268.55 L453.07,268.95 L453.07,269.35 L453.07,269.75 L453.07,270.15 L453.08,270.55 L453.10,270.95 L453.12,271.35 L453.14,271.75 L453.17,272.15 L453.19,272.55 L453.22,272.95 L453.24,273.35 L453.25,273.75 L453.27,274.15 L453.27,274.55 L453.27,274.95 L453.27,275.35 L453.27,275.75 L453.27,276.15 L453.27,276.55 L453.27,276.95 L453.27,277.35 L453.28,277.75 L453.29,278.15 L453.32,278.55 L453.37,278.95 L453.42,279.35 L453.49,279.75 L453.56,280.15 L453.63,280.55 L453.71,280.95 L453.80,281.35 L453.88,281.75 L453.96,282.15 L454.05,282.56 L454.14,282.96 L454.25,283.36 L454.37,283.76 L454.49,284.16 L454.62,284.56 L454.75,284.96 L454.89,285.36 L455.03,285.76 L455.17,286.16 L455.30,286.56 L455.44,286.96 L455.58,287.36 L455.73,287.76 L455.89,288.16 L456.05,288.56 L456.21,288.96 L456.37,289.36 L456.53,289.76 L456.69,290.16 L456.83,290.56 L456.96,290.96 L457.08,291.36 L457.18,291.76 L457.28,292.16 L457.38,292.56 L457.48,292.96 L457.57,293.36 L457.66,293.76 L457.75,294.16 L457.83,294.56 L457.90,294.96 L457.96,295.36 L458.01,295.76 L458.05,296.16 L458.06,296.56 L458.07,296.96 L458.06,297.37 L458.05,297.77 L458.04,298.17 L458.02,298.57 L458.00,298.97 L457.97,299.37 L457.95,299.77 L457.92,300.17 L457.88,300.57 L457.85,300.97 L457.82,301.37 L457.78,301.77 L457.74,302.17 L457.69,302.57 L457.64,302.97 L457.58,303.37 L457.51,303.77 L457.43,304.17 L457.35,304.57 L457.26,304.97 L457.18,305.37 L457.08,305.77 L456.99,306.17 L456.90,306.57 L456.80,306.97 L456.71,307.37 L456.61,307.77 L456.50,308.17 L456.39,308.57 L456.28,308.97 L456.15,309.37 L456.02,309.77 L455.89,310.17 L455.74,310.57 L455.59,310.97 L455.43,311.37 L455.25,311.77 L455.03,312.18 L454.79,312.58 L454.53,312.98 L454.26,313.38 L453.98,313.78 L453.70,314.18 L453.42,314.58 L453.17,314.98 L452.93,315.38 L452.70,315.78 L452.47,316.18 L452.24,316.58 L452.01,316.98 L451.79,317.38 L451.57,317.78 L451.36,318.18 L451.15,318.58 L450.95,318.98 L450.76,319.38 L450.57,319.78 L450.40,320.18 L450.23,320.58 L450.07,320.98 L449.91,321.38 L449.76,321.78 L449.61,322.18 L449.46,322.58 L449.32,322.98 L449.19,323.38 L449.06,323.78 L448.94,324.18 L448.82,324.58 L448.71,324.98 L448.61,325.38 L448.50,325.78 L448.40,326.18 L448.31,326.58 L448.21,326.99 L448.12,327.39 L448.04,327.79 L447.96,328.19 L447.88,328.59 L447.80,328.99 L447.73,329.39 L447.66,329.79 L447.59,330.19 L447.53,330.59 L447.46,330.99 L447.40,331.39 L447.35,331.79 L447.29,332.19 L447.24,332.59 L447.18,332.99 L447.13,333.39 L447.08,333.79 L447.04,334.19 L446.99,334.59 L446.94,334.99 L446.89,335.39 L446.85,335.79 L446.80,336.19 L446.76,336.59 L446.36,336.99 L446.36,336.99 L445.96,336.59 L445.92,336.19 L445.87,335.79 L445.83,335.39 L445.78,334.99 L445.73,334.59 L445.68,334.19 L445.64,333.79 L445.59,333.39 L445.54,332.99 L445.48,332.59 L445.43,332.19 L445.37,331.79 L445.32,331.39 L445.26,330.99 L445.19,330.59 L445.13,330.19 L445.06,329.79 L444.99,329.39 L444.92,328.99 L444.84,328.59 L444.76,328.19 L444.68,327.79 L444.60,327.39 L444.51,326.99 L444.41,326.58 L444.32,326.18 L444.22,325.78 L444.11,325.38 L444.01,324.98 L443.90,324.58 L443.78,324.18 L443.66,323.78 L443.53,323.38 L443.40,322.98 L443.26,322.58 L443.11,322.18 L442.96,321.78 L442.81,321.38 L442.65,320.98 L442.49,320.58 L442.32,320.18 L442.15,319.78 L441.96,319.38 L441.77,318.98 L441.57,318.58 L441.36,318.18 L441.15,317.78 L440.93,317.38 L440.71,316.98 L440.48,316.58 L440.25,316.18 L440.02,315.78 L439.79,315.38 L439.55,314.98 L439.30,314.58 L439.02,314.18 L438.74,313.78 L438.46,313.38 L438.19,312.98 L437.93,312.58 L437.69,312.18 L437.47,311.77 L437.29,311.37 L437.13,310.97 L436.98,310.57 L436.83,310.17 L436.70,309.77 L436.57,309.37 L436.44,308.97 L436.33,308.57 L436.22,308.17 L436.11,307.77 L436.01,307.37 L435.92,306.97 L435.82,306.57 L435.73,306.17 L435.64,305.77 L435.54,305.37 L435.46,304.97 L435.37,304.57 L435.29,304.17 L435.21,303.77 L435.14,303.37 L435.08,302.97 L435.03,302.57 L434.98,302.17 L434.94,301.77 L434.90,301.37 L434.87,300.97 L434.84,300.57 L434.80,300.17 L434.77,299.77 L434.75,299.37 L434.72,298.97 L434.70,298.57 L434.68,298.17 L434.67,297.77 L434.66,297.37 L434.65,296.96 L434.66,296.56 L434.67,296.16 L434.71,295.76 L434.76,295.36 L434.82,294.96 L434.89,294.56 L434.97,294.16 L435.06,293.76 L435.15,293.36 L435.24,292.96 L435.34,292.56 L435.44,292.16 L435.54,291.76 L435.64,291.36 L435.76,290.96 L435.89,290.56 L436.03,290.16 L436.19,289.76 L436.35,289.36 L436.51,288.96 L436.67,288.56 L436.83,288.16 L436.99,287.76 L437.14,287.36 L437.28,286.96 L437.42,286.56 L437.55,286.16 L437.69,285.76 L437.83,285.36 L437.97,284.96 L438.10,284.56 L438.23,284.16 L438.35,283.76 L438.47,283.36 L438.58,282.96 L438.67,282.56 L438.76,282.15 L438.84,281.75 L438.92,281.35 L439.01,280.95 L439.09,280.55 L439.16,280.15 L439.23,279.75 L439.30,279.35 L439.35,278.95 L439.40,278.55 L439.43,278.15 L439.44,277.75 L439.45,277.35 L439.45,276.95 L439.45,276.55 L439.45,276.15 L439.45,275.75 L439.45,275.35 L439.45,274.95 L439.45,274.55 L439.45,274.15 L439.47,273.75 L439.48,273.35 L439.50,272.95 L439.53,272.55 L439.55,272.15 L439.58,271.75 L439.60,271.35 L439.62,270.95 L439.64,270.55 L439.65,270.15 L439.65,269.75 L439.65,269.35 L439.65,268.95 L439.65,268.55 L439.65,268.15 L439.65,267.75 L439.65,267.35 L439.65,266.94 L439.65,266.54 L439.65,266.14 L439.65,265.74 L439.65,265.34 L439.65,264.94 L439.64,264.54 L439.63,264.14 L439.61,263.74 L439.59,263.34 L439.57,262.94 L439.54,262.54 L439.51,262.14 L439.47,261.74 L439.44,261.34 L439.40,260.94 L439.36,260.54 L439.32,260.14 L439.27,259.74 L439.21,259.34 L439.13,258.94 L439.06,258.54 L438.97,258.14 L438.89,257.74 L438.80,257.34 L438.71,256.94 L438.62,256.54 L438.54,256.14 L438.46,255.74 L438.38,255.34 L438.30,254.94 L438.21,254.54 L438.12,254.14 L438.04,253.74 L437.95,253.34 L437.87,252.94 L437.79,252.54 L437.72,252.13 L437.65,251.73 L437.60,251.33 L437.55,250.93 L437.52,250.53 L437.48,250.13 L437.44,249.73 L437.41,249.33 L437.37,248.93 L437.34,248.53 L437.32,248.13 L437.29,247.73 L437.27,247.33 L437.26,246.93 L437.25,246.53 L437.25,246.13 L437.26,245.73 L437.29,245.33 L437.33,244.93 L437.39,244.53 L437.46,244.13 L437.53,243.73 L437.62,243.33 L437.71,242.93 L437.80,242.53 L437.90,242.13 L438.00,241.73 L438.09,241.33 L438.21,240.93 L438.35,240.53 L438.50,240.13 L438.67,239.73 L438.84,239.33 L439.01,238.93 L439.19,238.53 L439.36,238.13 L439.52,237.73 L439.67,237.32 L439.82,236.92 L439.96,236.52 L440.10,236.12 L440.24,235.72 L440.37,235.32 L440.51,234.92 L440.64,234.52 L440.77,234.12 L440.90,233.72 L441.03,233.32 L441.16,232.92 L441.29,232.52 L441.41,232.12 L441.54,231.72 L441.66,231.32 L441.79,230.92 L441.91,230.52 L442.03,230.12 L442.15,229.72 L442.27,229.32 L442.40,228.92 L442.52,228.52 L442.64,228.12 L442.76,227.72 L442.88,227.32 L443.00,226.92 L443.12,226.52 L443.24,226.12 L443.36,225.72 L443.48,225.32 L443.59,224.92 L443.70,224.52 L443.81,224.12 L443.92,223.72 L444.03,223.32 L444.13,222.92 L444.24,222.51 L444.34,222.11 L444.44,221.71 L444.54,221.31 L444.64,220.91 L444.74,220.51 L444.83,220.11 L444.91,219.71 L445.00,219.31 L445.08,218.91 L445.16,218.51 L445.24,218.11 L445.32,217.71 L445.40,217.31 L445.47,216.91 L445.54,216.51 L445.60,216.11 L445.67,215.71 L445.72,215.31 L445.78,214.91 L445.83,214.51 L445.88,214.11 L445.92,213.71 L446.36,213.31Z" fill="#fff" stroke="#222" stroke-width="0.58" stroke-linejoin="round"/>
<line x1="446.36" x2="446.36" y1="200.50" y2="213.31" stroke="#303030" stroke-width="0.5"/>
<line x1="446.36" x2="446.36" y1="336.99" y2="349.00" stroke="#303030" stroke-width="0.5"/>
<circle cx="236.86" cy="286" r="1.66" fill="#000"/>
<circle cx="241.76" cy="286" r="1.66" fill="#000"/>
<circle cx="246.66" cy="286" r="1.66" fill="#000"/>
<circle cx="239.31" cy="298.4" r="1.66" fill="#000"/>
<circle cx="244.21" cy="298.4" r="1.66" fill="#000"/>
<circle cx="239.31" cy="302.7" r="1.66" fill="#000"/>
<circle cx="244.21" cy="302.7" r="1.66" fill="#000"/>
<circle cx="239.31" cy="307.9" r="1.66" fill="#000"/>
<circle cx="244.21" cy="307.9" r="1.66" fill="#000"/>
<circle cx="236.86" cy="316.8" r="1.66" fill="#000"/>
<circle cx="246.66" cy="316.8" r="1.66" fill="#000"/>
<circle cx="234.41" cy="322.1" r="1.66" fill="#000"/>
<circle cx="239.31" cy="322.1" r="1.66" fill="#000"/>
<circle cx="244.21" cy="322.1" r="1.66" fill="#000"/>
<circle cx="249.11" cy="322.1" r="1.66" fill="#000"/>
<circle cx="229.51" cy="324.85" r="1.66" fill="#000"/>
<circle cx="234.41" cy="324.85" r="1.66" fill="#000"/>
<circle cx="239.31" cy="324.85" r="1.66" fill="#000"/>
<circle cx="244.21" cy="324.85" r="1.66" fill="#000"/>
<circle cx="249.11" cy="324.85" r="1.66" fill="#000"/>
<circle cx="254.01" cy="324.85" r="1.66" fill="#000"/>
<circle cx="234.41" cy="328.6" r="1.66" fill="#000"/>
<circle cx="239.31" cy="328.6" r="1.66" fill="#000"/>
<circle cx="244.21" cy="328.6" r="1.66" fill="#000"/>
<circle cx="249.11" cy="328.6" r="1.66" fill="#000"/>
<circle cx="234.41" cy="332.2" r="1.66" fill="#000"/>
<circle cx="239.31" cy="332.2" r="1.66" fill="#000"/>
<circle cx="244.21" cy="332.2" r="1.66" fill="#000"/>
<circle cx="249.11" cy="332.2" r="1.66" fill="#000"/>
<line x1="241.76" x2="241.76" y1="303" y2="329" stroke="#55e065" stroke-width="0.5"/>
<circle cx="241.76" cy="316.8" r="1.8" fill="#10d020"/>
<circle cx="310.00" cy="269.1" r="1.66" fill="#000"/>
<circle cx="305.10" cy="273.5" r="1.66" fill="#000"/>
<circle cx="310.00" cy="273.5" r="1.66" fill="#000"/>
<circle cx="314.90" cy="273.5" r="1.66" fill="#000"/>
<circle cx="307.55" cy="278.9" r="1.66" fill="#000"/>
<circle cx="312.45" cy="278.9" r="1.66" fill="#000"/>
<circle cx="310.00" cy="284.1" r="1.66" fill="#000"/>
<circle cx="307.55" cy="286.5" r="1.66" fill="#000"/>
<circle cx="312.45" cy="286.5" r="1.66" fill="#000"/>
<circle cx="302.65" cy="291.3" r="1.66" fill="#000"/>
<circle cx="307.55" cy="291.3" r="1.66" fill="#000"/>
<circle cx="312.45" cy="291.3" r="1.66" fill="#000"/>
<circle cx="317.35" cy="291.3" r="1.66" fill="#000"/>
<circle cx="305.10" cy="299.4" r="1.66" fill="#000"/>
<circle cx="310.00" cy="299.4" r="1.66" fill="#000"/>
<circle cx="314.90" cy="299.4" r="1.66" fill="#000"/>
<circle cx="297.75" cy="304.9" r="1.66" fill="#000"/>
<circle cx="302.65" cy="304.9" r="1.66" fill="#000"/>
<circle cx="307.55" cy="304.9" r="1.66" fill="#000"/>
<circle cx="312.45" cy="304.9" r="1.66" fill="#000"/>
<circle cx="317.35" cy="304.9" r="1.66" fill="#000"/>
<circle cx="322.25" cy="304.9" r="1.66" fill="#000"/>
<circle cx="295.30" cy="311.8" r="1.66" fill="#000"/>
<circle cx="300.20" cy="311.8" r="1.66" fill="#000"/>
<circle cx="305.10" cy="311.8" r="1.66" fill="#000"/>
<circle cx="310.00" cy="311.8" r="1.66" fill="#000"/>
<circle cx="314.90" cy="311.8" r="1.66" fill="#000"/>
<circle cx="319.80" cy="311.8" r="1.66" fill="#000"/>
<circle cx="324.70" cy="311.8" r="1.66" fill="#000"/>
<circle cx="310.00" cy="318.9" r="1.66" fill="#000"/>
<line x1="310.0" x2="310.0" y1="283.9" y2="311.2" stroke="#55e065" stroke-width="0.5"/>
<circle cx="310.0" cy="296.2" r="1.8" fill="#10d020"/>
<circle cx="378.30" cy="297.1" r="1.66" fill="#000"/>
<circle cx="378.30" cy="300.8" r="1.66" fill="#000"/>
<circle cx="368.50" cy="305.5" r="1.66" fill="#000"/>
<circle cx="373.40" cy="305.5" r="1.66" fill="#000"/>
<circle cx="378.30" cy="305.5" r="1.66" fill="#000"/>
<circle cx="383.20" cy="305.5" r="1.66" fill="#000"/>
<circle cx="388.10" cy="305.5" r="1.66" fill="#000"/>
<circle cx="373.40" cy="309.3" r="1.66" fill="#000"/>
<circle cx="378.30" cy="309.3" r="1.66" fill="#000"/>
<circle cx="383.20" cy="309.3" r="1.66" fill="#000"/>
<circle cx="366.05" cy="317.1" r="1.66" fill="#000"/>
<circle cx="370.95" cy="317.1" r="1.66" fill="#000"/>
<circle cx="375.85" cy="317.1" r="1.66" fill="#000"/>
<circle cx="380.75" cy="317.1" r="1.66" fill="#000"/>
<circle cx="385.65" cy="317.1" r="1.66" fill="#000"/>
<circle cx="390.55" cy="317.1" r="1.66" fill="#000"/>
<circle cx="368.50" cy="320.65" r="1.66" fill="#000"/>
<circle cx="373.40" cy="320.65" r="1.66" fill="#000"/>
<circle cx="378.30" cy="320.65" r="1.66" fill="#000"/>
<circle cx="383.20" cy="320.65" r="1.66" fill="#000"/>
<circle cx="388.10" cy="320.65" r="1.66" fill="#000"/>
<circle cx="370.95" cy="324.4" r="1.66" fill="#000"/>
<circle cx="375.85" cy="324.4" r="1.66" fill="#000"/>
<circle cx="380.75" cy="324.4" r="1.66" fill="#000"/>
<circle cx="385.65" cy="324.4" r="1.66" fill="#000"/>
<circle cx="373.40" cy="328.3" r="1.66" fill="#000"/>
<circle cx="378.30" cy="328.3" r="1.66" fill="#000"/>
<circle cx="383.20" cy="328.3" r="1.66" fill="#000"/>
<circle cx="375.85" cy="332.1" r="1.66" fill="#000"/>
<circle cx="380.75" cy="332.1" r="1.66" fill="#000"/>
<line x1="378.3" x2="378.3" y1="309.3" y2="322.4" stroke="#55e065" stroke-width="0.5"/>
<rect x="376.7" y="315.0" width="3.2" height="3.4" rx="0.8" fill="#10d020"/>
<circle cx="443.91" cy="237.3" r="1.66" fill="#000"/>
<circle cx="448.81" cy="237.3" r="1.66" fill="#000"/>
<circle cx="439.01" cy="242.4" r="1.66" fill="#000"/>
<circle cx="443.91" cy="242.4" r="1.66" fill="#000"/>
<circle cx="448.81" cy="242.4" r="1.66" fill="#000"/>
<circle cx="453.71" cy="242.4" r="1.66" fill="#000"/>
<circle cx="439.01" cy="248.2" r="1.66" fill="#000"/>
<circle cx="443.91" cy="248.2" r="1.66" fill="#000"/>
<circle cx="448.81" cy="248.2" r="1.66" fill="#000"/>
<circle cx="453.71" cy="248.2" r="1.66" fill="#000"/>
<circle cx="446.36" cy="266.6" r="1.66" fill="#000"/>
<circle cx="441.46" cy="269.6" r="1.66" fill="#000"/>
<circle cx="446.36" cy="269.6" r="1.66" fill="#000"/>
<circle cx="451.26" cy="269.6" r="1.66" fill="#000"/>
<circle cx="443.91" cy="292.6" r="1.66" fill="#000"/>
<circle cx="448.81" cy="292.6" r="1.66" fill="#000"/>
<circle cx="436.56" cy="297" r="1.66" fill="#000"/>
<circle cx="441.46" cy="297" r="1.66" fill="#000"/>
<circle cx="446.36" cy="297" r="1.66" fill="#000"/>
<circle cx="451.26" cy="297" r="1.66" fill="#000"/>
<circle cx="456.16" cy="297" r="1.66" fill="#000"/>
<circle cx="441.46" cy="300.5" r="1.66" fill="#000"/>
<circle cx="446.36" cy="300.5" r="1.66" fill="#000"/>
<circle cx="451.26" cy="300.5" r="1.66" fill="#000"/>
<circle cx="439.01" cy="307" r="1.66" fill="#000"/>
<circle cx="443.91" cy="307" r="1.66" fill="#000"/>
<circle cx="448.81" cy="307" r="1.66" fill="#000"/>
<circle cx="453.71" cy="307" r="1.66" fill="#000"/>
<circle cx="446.36" cy="313.3" r="1.66" fill="#000"/>
<line x1="446.36" x2="446.36" y1="249.75" y2="302.3" stroke="#55e065" stroke-width="0.5"/>
<circle cx="446.36" cy="276.1" r="1.8" fill="#10d020"/>
<rect x="464.7" y="334.8" width="24.60" height="27.70" fill="#fff"/>
<text x="474.2" y="354.1" font-family="Liberation Sans, sans-serif" font-weight="bold" font-size="16.4" text-anchor="middle" fill="#000" transform="translate(474.2,0) scale(0.9,1) translate(-474.2,0)">c</text>
<line x1="199.5" x2="200.9" y1="336.25" y2="336.25" stroke="#555" stroke-width="0.5"/>
<text x="199.1" y="339.25" font-family="Liberation Sans, sans-serif" font-size="7.1" text-anchor="end" fill="#444">2.5</text>
<line x1="199.5" x2="200.9" y1="287.5" y2="287.5" stroke="#555" stroke-width="0.5"/>
<text x="199.1" y="290.5" font-family="Liberation Sans, sans-serif" font-size="7.1" text-anchor="end" fill="#444">5.0</text>
<line x1="199.5" x2="200.9" y1="238.0" y2="238.0" stroke="#555" stroke-width="0.5"/>
<text x="199.1" y="241.0" font-family="Liberation Sans, sans-serif" font-size="7.1" text-anchor="end" fill="#444">7.5</text>
<line x1="241.76" x2="241.76" y1="360.5" y2="361.9" stroke="#555" stroke-width="0.5"/>
<text x="241.76" y="368.0" font-family="Liberation Sans, sans-serif" font-size="6.8" text-anchor="middle" fill="#4d4d4d">IM</text>
<line x1="310.0" x2="310.0" y1="360.5" y2="361.9" stroke="#555" stroke-width="0.5"/>
<text x="310.0" y="368.0" font-family="Liberation Sans, sans-serif" font-size="6.8" text-anchor="middle" fill="#4d4d4d">BM</text>
<line x1="378.3" x2="378.3" y1="360.5" y2="361.9" stroke="#555" stroke-width="0.5"/>
<text x="378.3" y="368.0" font-family="Liberation Sans, sans-serif" font-size="6.8" text-anchor="middle" fill="#4d4d4d">CM</text>
<line x1="446.36" x2="446.36" y1="360.5" y2="361.9" stroke="#555" stroke-width="0.5"/>
<text x="446.36" y="368.0" font-family="Liberation Sans, sans-serif" font-size="6.8" text-anchor="middle" fill="#4d4d4d">UC</text>
<text x="344.55" y="376.7" font-family="Liberation Sans, sans-serif" font-size="8.9" text-anchor="middle" fill="#111" stroke="#111" stroke-width="0.06">Treatment</text>
<text x="187.3" y="275.75" font-family="Liberation Sans, sans-serif" font-size="8.95" text-anchor="middle" fill="#111" stroke="#111" stroke-width="0.06" transform="rotate(-90 187.3 275.75)">Aphid/Plant</text>
</g>
</svg>
</body></html>
